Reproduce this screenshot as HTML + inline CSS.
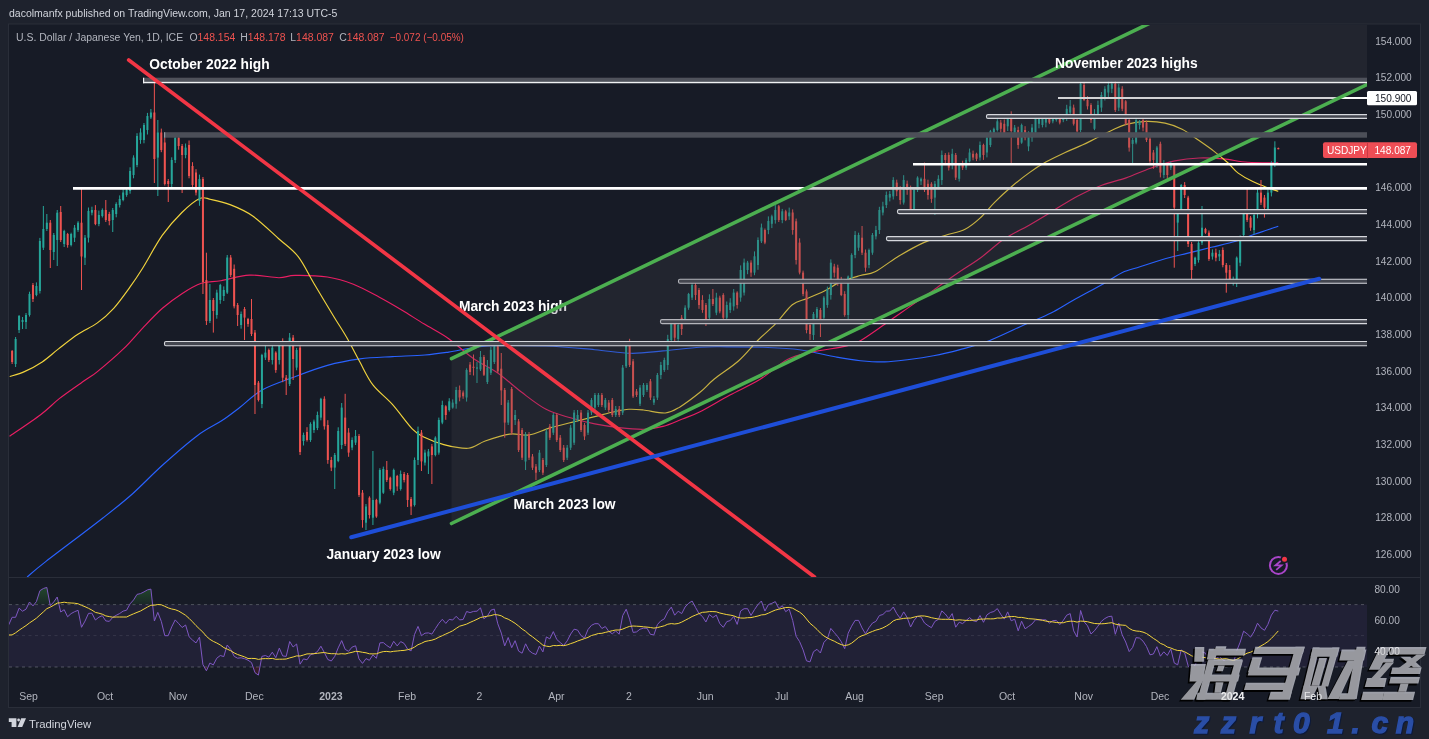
<!DOCTYPE html>
<html><head><meta charset="utf-8"><style>html,body{margin:0;padding:0;overflow:hidden;background:#1e222d;}svg{display:block;will-change:transform}</style></head>
<body><svg width="1429" height="739" viewBox="0 0 1429 739" xml:space="preserve">
<rect x="0" y="0" width="1429" height="739" fill="#1e222d"/>
<rect x="8.5" y="24" width="1412" height="683.5" fill="#171b26" stroke="#2a2e39" stroke-width="1"/>
<defs><clipPath id="cp"><rect x="9" y="25" width="1358" height="552"/></clipPath><clipPath id="cr"><rect x="9" y="578" width="1358" height="103"/></clipPath></defs>
<g clip-path="url(#cp)">
<path fill="none" stroke="#2962ff" stroke-width="1.15" d="M27.1,577.0 C30.2,574.4 33.4,571.2 46.0,561.4 C58.6,551.6 88.5,529.3 102.9,518.0 C117.3,506.7 122.7,502.5 132.6,493.7 C142.5,484.9 151.6,475.0 162.4,465.3 C173.2,455.6 187.7,442.9 197.6,435.5 C207.5,428.1 214.9,425.3 222.0,420.6 C229.1,415.9 233.2,412.5 240.0,407.3 C246.8,402.1 253.3,394.8 262.5,389.7 C271.7,384.6 284.2,380.8 295.0,376.7 C305.8,372.6 316.6,368.4 327.4,365.4 C338.2,362.4 349.1,360.4 359.9,358.9 C370.7,357.4 381.6,357.2 392.4,356.6 C403.2,356.0 415.5,355.8 424.9,355.0 C434.3,354.2 438.2,353.6 448.7,352.1 C459.2,350.6 471.5,347.0 487.7,346.0 C503.9,345.0 528.2,345.4 546.1,346.0 C564.0,346.6 580.6,348.5 594.8,349.7 C609.0,350.9 619.9,353.1 631.3,353.3 C642.7,353.5 651.5,351.9 663.0,350.9 C674.5,349.9 689.4,347.9 700.0,347.2 C710.6,346.5 716.0,346.8 726.5,346.8 C737.0,346.8 750.8,346.8 763.0,347.3 C775.2,347.8 787.4,348.1 799.6,349.7 C811.8,351.3 826.0,355.2 836.1,357.0 C846.2,358.8 852.3,359.9 860.4,360.7 C868.5,361.5 876.7,362.1 884.8,361.9 C892.9,361.7 901.0,360.5 909.1,359.5 C917.2,358.5 925.0,357.4 933.5,355.8 C942.0,354.2 950.7,352.1 960.0,349.6 C969.3,347.1 978.4,344.9 989.2,340.7 C1000.0,336.5 1014.7,329.1 1025.0,324.5 C1035.3,319.9 1042.9,317.2 1051.0,313.1 C1059.1,309.0 1064.5,305.2 1073.7,300.1 C1082.9,295.0 1098.1,286.8 1106.2,282.2 C1114.3,277.6 1116.8,275.1 1122.4,272.5 C1128.0,269.9 1133.3,269.0 1140.0,266.8 C1146.7,264.6 1154.9,261.7 1162.7,259.5 C1170.5,257.3 1178.9,255.4 1187.0,253.4 C1195.1,251.4 1203.3,249.3 1211.4,247.3 C1219.5,245.3 1228.4,243.5 1235.7,241.3 C1243.0,239.1 1248.1,236.5 1255.2,234.0 C1262.3,231.5 1274.5,227.5 1278.3,226.2"/>
<path fill="none" stroke="#e91e63" stroke-width="1.15" d="M9.5,436.3 C14.7,432.7 32.2,421.0 40.6,414.7 C49.0,408.4 52.2,404.2 59.6,398.4 C67.0,392.6 79.0,384.5 85.3,380.0 C91.6,375.5 91.1,376.8 97.4,371.6 C103.8,366.4 115.8,356.2 123.4,348.9 C131.0,341.6 136.4,334.6 142.9,327.8 C149.4,321.0 155.9,314.0 162.4,308.3 C168.9,302.6 175.4,297.9 181.9,293.7 C188.4,289.5 194.9,285.5 201.4,283.3 C207.9,281.1 212.8,282.1 220.8,280.7 C228.8,279.3 239.8,275.6 249.5,275.1 C259.1,274.6 271.1,277.6 278.7,277.7 C286.3,277.8 286.9,275.5 295.0,275.4 C303.1,275.3 317.7,275.5 327.4,277.0 C337.1,278.5 344.7,280.8 353.4,284.2 C362.1,287.6 371.3,292.9 379.4,297.2 C387.5,301.5 394.6,305.7 402.1,310.2 C409.6,314.7 416.5,319.4 424.3,324.1 C432.1,328.9 440.6,333.0 448.7,338.7 C456.8,344.4 464.9,352.5 473.0,358.2 C481.1,363.9 489.3,367.1 497.4,372.8 C505.5,378.5 513.6,386.2 521.7,392.3 C529.8,398.4 538.0,405.1 546.1,409.3 C554.2,413.6 562.3,415.4 570.4,417.8 C578.5,420.2 586.7,422.3 594.8,423.9 C602.9,425.5 611.0,426.7 619.1,427.6 C627.2,428.5 636.2,429.5 643.5,429.3 C650.8,429.1 656.5,428.1 663.0,426.4 C669.5,424.7 676.2,421.4 682.4,419.0 C688.6,416.6 692.1,415.7 700.0,411.7 C707.9,407.7 719.9,400.4 730.0,395.0 C740.1,389.6 751.0,384.9 760.6,379.0 C770.2,373.1 778.9,364.0 787.4,359.5 C795.9,355.0 802.0,354.4 811.7,352.2 C821.4,350.0 837.7,348.0 845.8,346.1 C853.9,344.2 853.9,344.4 860.4,340.7 C866.9,337.0 876.7,329.8 884.8,324.2 C892.9,318.6 901.0,312.8 909.1,307.1 C917.2,301.4 925.4,295.8 933.5,290.1 C941.6,284.4 950.0,278.3 957.8,273.0 C965.5,267.7 972.2,264.0 980.0,258.3 C987.8,252.6 996.3,244.3 1004.4,238.8 C1012.5,233.3 1020.6,230.1 1028.7,225.4 C1036.8,220.7 1045.0,215.7 1053.1,210.8 C1061.2,205.9 1069.3,200.5 1077.4,196.2 C1085.5,191.9 1093.7,188.2 1101.8,185.2 C1109.9,182.1 1118.0,180.7 1126.1,177.9 C1134.2,175.1 1142.4,171.0 1150.5,168.2 C1158.6,165.4 1166.7,162.6 1174.8,160.9 C1182.9,159.2 1191.1,158.3 1199.2,158.0 C1207.3,157.7 1215.4,158.2 1223.5,158.9 C1231.6,159.6 1238.8,161.7 1247.9,162.3 C1257.0,163.0 1273.2,162.7 1278.3,162.8"/>
<path fill="none" stroke="#f2d43d" stroke-width="1.15" d="M9.7,376.5 C12.1,375.7 19.0,374.0 24.4,371.6 C29.8,369.2 36.5,365.7 42.2,361.9 C47.9,358.1 52.5,353.5 58.5,348.9 C64.5,344.3 71.4,338.6 77.9,334.3 C84.4,330.0 91.4,327.2 97.4,322.9 C103.4,318.6 108.3,314.2 113.7,308.3 C119.1,302.4 125.0,294.0 129.9,287.2 C134.8,280.4 137.5,276.4 142.9,267.7 C148.3,259.0 155.9,244.4 162.4,235.2 C168.9,226.0 175.7,218.6 181.9,212.5 C188.1,206.4 194.8,200.7 199.7,198.5 C204.6,196.3 206.0,198.5 211.1,199.5 C216.2,200.5 223.1,201.8 230.0,204.6 C236.9,207.3 244.6,210.3 252.7,216.0 C260.8,221.7 271.1,231.9 278.7,238.7 C286.3,245.5 292.2,249.0 298.2,256.6 C304.1,264.2 308.4,274.2 314.4,284.2 C320.3,294.2 328.5,307.8 333.9,316.7 C339.3,325.6 342.6,330.2 346.9,337.8 C351.2,345.4 355.6,354.2 359.9,362.1 C364.2,370.0 367.5,377.8 372.9,384.9 C378.3,391.9 385.8,397.1 392.4,404.4 C398.9,411.7 406.9,423.3 412.2,428.8 C417.5,434.3 419.0,434.7 424.3,437.3 C429.6,439.9 436.5,442.8 443.8,444.6 C451.1,446.4 461.3,448.9 468.2,448.3 C475.1,447.7 478.3,443.4 485.2,441.0 C492.1,438.6 502.3,435.1 509.6,434.1 C516.9,433.1 522.1,436.0 529.0,434.9 C535.9,433.8 543.3,429.8 551.0,427.6 C558.7,425.4 568.0,423.3 575.3,421.5 C582.6,419.7 588.3,418.2 594.8,416.6 C601.3,415.0 608.6,412.9 614.3,411.7 C620.0,410.5 624.0,409.6 628.9,409.3 C633.8,409.0 637.4,409.4 643.5,410.0 C649.6,410.6 659.3,413.5 665.4,413.0 C671.5,412.5 674.2,410.3 680.0,406.9 C685.8,403.4 694.3,396.9 700.0,392.3 C705.7,387.7 707.8,384.3 714.3,379.0 C720.8,373.7 731.4,367.2 738.7,360.7 C746.0,354.2 752.1,346.1 758.2,340.0 C764.3,333.9 769.5,330.1 775.2,324.2 C780.9,318.3 787.0,309.0 792.3,304.7 C797.6,300.4 801.6,300.8 806.9,298.6 C812.2,296.4 818.2,294.1 823.9,291.3 C829.6,288.5 834.9,284.2 841.0,281.6 C847.1,279.0 854.7,277.1 860.4,275.5 C866.1,273.9 868.9,274.9 875.0,271.8 C881.1,268.8 888.9,262.1 897.0,257.2 C905.1,252.3 915.6,246.2 923.7,242.6 C931.8,238.9 938.8,237.5 945.7,235.3 C952.6,233.1 959.4,232.1 965.1,229.2 C970.8,226.3 975.1,222.6 980.0,218.1 C984.9,213.6 989.3,207.6 994.6,202.3 C999.9,197.0 1006.0,191.4 1011.7,186.5 C1017.4,181.6 1023.0,177.2 1028.7,173.1 C1034.4,169.0 1039.7,165.5 1045.8,162.1 C1051.9,158.7 1059.1,155.2 1065.2,152.4 C1071.3,149.6 1077.0,147.5 1082.3,145.1 C1087.6,142.7 1092.0,140.2 1096.9,137.8 C1101.8,135.4 1106.6,132.6 1111.5,130.4 C1116.4,128.2 1120.4,125.9 1126.1,124.4 C1131.8,122.9 1139.1,121.6 1145.6,121.4 C1152.1,121.2 1159.0,121.8 1165.1,123.1 C1171.2,124.4 1176.8,126.5 1182.1,129.2 C1187.4,131.8 1191.5,135.3 1196.8,139.0 C1202.1,142.7 1208.5,147.0 1213.8,151.1 C1219.1,155.2 1224.3,159.6 1228.4,163.3 C1232.5,167.0 1234.1,170.1 1238.2,173.1 C1242.3,176.1 1247.9,179.2 1252.8,181.6 C1257.7,184.0 1263.2,186.1 1267.4,187.7 C1271.7,189.3 1276.5,190.7 1278.3,191.3"/>
<line x1="12.14" y1="350.0" x2="12.14" y2="364.0" stroke="#ef5350" stroke-width="1"/>
<rect x="11.14" y="351.0" width="2.0" height="11.0" fill="#ef5350"/>
<line x1="15.61" y1="337.0" x2="15.61" y2="367.0" stroke="#26a69a" stroke-width="1"/>
<rect x="14.61" y="339.0" width="2.0" height="25.0" fill="#26a69a"/>
<line x1="19.08" y1="315.0" x2="19.08" y2="333.0" stroke="#26a69a" stroke-width="1"/>
<rect x="18.08" y="316.0" width="2.0" height="14.0" fill="#26a69a"/>
<line x1="22.55" y1="317.0" x2="22.55" y2="329.0" stroke="#26a69a" stroke-width="1"/>
<rect x="21.55" y="320.0" width="2.0" height="2.0" fill="#26a69a"/>
<line x1="26.02" y1="313.0" x2="26.02" y2="329.0" stroke="#26a69a" stroke-width="1"/>
<rect x="25.02" y="315.0" width="2.0" height="7.0" fill="#26a69a"/>
<line x1="29.49" y1="291.7" x2="29.49" y2="316.6" stroke="#26a69a" stroke-width="1"/>
<rect x="28.49" y="294.0" width="2.0" height="21.0" fill="#26a69a"/>
<line x1="32.96" y1="283.0" x2="32.96" y2="302.0" stroke="#ef5350" stroke-width="1"/>
<rect x="31.96" y="285.0" width="2.0" height="14.0" fill="#ef5350"/>
<line x1="36.42" y1="282.4" x2="36.42" y2="296.3" stroke="#26a69a" stroke-width="1"/>
<rect x="35.42" y="286.0" width="2.0" height="9.0" fill="#26a69a"/>
<line x1="39.89" y1="237.9" x2="39.89" y2="293.5" stroke="#26a69a" stroke-width="1"/>
<rect x="38.89" y="241.0" width="2.0" height="50.0" fill="#26a69a"/>
<line x1="43.36" y1="206.0" x2="43.36" y2="250.0" stroke="#26a69a" stroke-width="1"/>
<rect x="42.36" y="229.0" width="2.0" height="18.7" fill="#26a69a"/>
<line x1="46.83" y1="214.0" x2="46.83" y2="231.0" stroke="#26a69a" stroke-width="1"/>
<rect x="45.83" y="222.7" width="2.0" height="6.3" fill="#26a69a"/>
<line x1="50.30" y1="220.0" x2="50.30" y2="268.0" stroke="#ef5350" stroke-width="1"/>
<rect x="49.30" y="222.7" width="2.0" height="27.3" fill="#ef5350"/>
<line x1="53.77" y1="233.0" x2="53.77" y2="260.0" stroke="#26a69a" stroke-width="1"/>
<rect x="52.77" y="235.0" width="2.0" height="17.0" fill="#26a69a"/>
<line x1="57.24" y1="210.0" x2="57.24" y2="266.0" stroke="#26a69a" stroke-width="1"/>
<rect x="56.24" y="212.7" width="2.0" height="27.3" fill="#26a69a"/>
<line x1="60.71" y1="206.0" x2="60.71" y2="242.0" stroke="#ef5350" stroke-width="1"/>
<rect x="59.71" y="212.0" width="2.0" height="28.0" fill="#ef5350"/>
<line x1="64.18" y1="229.8" x2="64.18" y2="247.0" stroke="#26a69a" stroke-width="1"/>
<rect x="63.18" y="231.0" width="2.0" height="13.0" fill="#26a69a"/>
<line x1="67.65" y1="232.9" x2="67.65" y2="247.7" stroke="#ef5350" stroke-width="1"/>
<rect x="66.65" y="234.0" width="2.0" height="11.0" fill="#ef5350"/>
<line x1="71.11" y1="232.7" x2="71.11" y2="246.4" stroke="#26a69a" stroke-width="1"/>
<rect x="70.11" y="234.0" width="2.0" height="11.0" fill="#26a69a"/>
<line x1="74.58" y1="225.0" x2="74.58" y2="242.0" stroke="#26a69a" stroke-width="1"/>
<rect x="73.58" y="227.7" width="2.0" height="10.0" fill="#26a69a"/>
<line x1="78.05" y1="221.2" x2="78.05" y2="231.9" stroke="#26a69a" stroke-width="1"/>
<rect x="77.05" y="222.7" width="2.0" height="7.3" fill="#26a69a"/>
<line x1="81.52" y1="189.0" x2="81.52" y2="290.0" stroke="#ef5350" stroke-width="1"/>
<rect x="80.52" y="222.7" width="2.0" height="33.8" fill="#ef5350"/>
<line x1="84.99" y1="235.0" x2="84.99" y2="265.0" stroke="#26a69a" stroke-width="1"/>
<rect x="83.99" y="237.7" width="2.0" height="20.0" fill="#26a69a"/>
<line x1="88.46" y1="207.5" x2="88.46" y2="242.5" stroke="#26a69a" stroke-width="1"/>
<rect x="87.46" y="211.0" width="2.0" height="26.7" fill="#26a69a"/>
<line x1="91.93" y1="206.7" x2="91.93" y2="215.3" stroke="#26a69a" stroke-width="1"/>
<rect x="90.93" y="210.0" width="2.0" height="2.7" fill="#26a69a"/>
<line x1="95.40" y1="205.1" x2="95.40" y2="225.2" stroke="#ef5350" stroke-width="1"/>
<rect x="94.40" y="210.0" width="2.0" height="14.0" fill="#ef5350"/>
<line x1="98.87" y1="210.6" x2="98.87" y2="226.2" stroke="#26a69a" stroke-width="1"/>
<rect x="97.87" y="215.0" width="2.0" height="9.0" fill="#26a69a"/>
<line x1="102.34" y1="208.4" x2="102.34" y2="217.5" stroke="#26a69a" stroke-width="1"/>
<rect x="101.34" y="210.0" width="2.0" height="6.0" fill="#26a69a"/>
<line x1="105.80" y1="200.0" x2="105.80" y2="222.0" stroke="#ef5350" stroke-width="1"/>
<rect x="104.80" y="210.0" width="2.0" height="10.0" fill="#ef5350"/>
<line x1="109.27" y1="211.8" x2="109.27" y2="225.3" stroke="#ef5350" stroke-width="1"/>
<rect x="108.27" y="214.0" width="2.0" height="7.0" fill="#ef5350"/>
<line x1="112.74" y1="208.0" x2="112.74" y2="232.0" stroke="#26a69a" stroke-width="1"/>
<rect x="111.74" y="210.0" width="2.0" height="10.0" fill="#26a69a"/>
<line x1="116.21" y1="202.3" x2="116.21" y2="217.3" stroke="#26a69a" stroke-width="1"/>
<rect x="115.21" y="204.0" width="2.0" height="10.0" fill="#26a69a"/>
<line x1="119.68" y1="195.4" x2="119.68" y2="207.5" stroke="#26a69a" stroke-width="1"/>
<rect x="118.68" y="199.0" width="2.0" height="6.0" fill="#26a69a"/>
<line x1="123.15" y1="189.3" x2="123.15" y2="201.3" stroke="#26a69a" stroke-width="1"/>
<rect x="122.15" y="192.5" width="2.0" height="7.5" fill="#26a69a"/>
<line x1="126.62" y1="188.8" x2="126.62" y2="196.8" stroke="#26a69a" stroke-width="1"/>
<rect x="125.62" y="190.0" width="2.0" height="5.0" fill="#26a69a"/>
<line x1="130.09" y1="167.3" x2="130.09" y2="193.7" stroke="#26a69a" stroke-width="1"/>
<rect x="129.09" y="171.0" width="2.0" height="20.0" fill="#26a69a"/>
<line x1="133.56" y1="155.3" x2="133.56" y2="178.3" stroke="#26a69a" stroke-width="1"/>
<rect x="132.56" y="157.6" width="2.0" height="17.4" fill="#26a69a"/>
<line x1="137.03" y1="133.2" x2="137.03" y2="167.2" stroke="#26a69a" stroke-width="1"/>
<rect x="136.03" y="136.0" width="2.0" height="29.0" fill="#26a69a"/>
<line x1="140.50" y1="128.3" x2="140.50" y2="143.8" stroke="#26a69a" stroke-width="1"/>
<rect x="139.50" y="132.5" width="2.0" height="7.5" fill="#26a69a"/>
<line x1="143.96" y1="123.0" x2="143.96" y2="143.3" stroke="#26a69a" stroke-width="1"/>
<rect x="142.96" y="125.0" width="2.0" height="15.0" fill="#26a69a"/>
<line x1="147.43" y1="112.9" x2="147.43" y2="134.5" stroke="#26a69a" stroke-width="1"/>
<rect x="146.43" y="116.0" width="2.0" height="14.0" fill="#26a69a"/>
<line x1="150.90" y1="109.0" x2="150.90" y2="119.0" stroke="#26a69a" stroke-width="1"/>
<rect x="149.90" y="112.5" width="2.0" height="5.0" fill="#26a69a"/>
<line x1="154.37" y1="79.0" x2="154.37" y2="183.0" stroke="#ef5350" stroke-width="1"/>
<rect x="153.37" y="112.5" width="2.0" height="46.5" fill="#ef5350"/>
<line x1="157.84" y1="120.0" x2="157.84" y2="196.0" stroke="#26a69a" stroke-width="1"/>
<rect x="156.84" y="132.5" width="2.0" height="25.1" fill="#26a69a"/>
<line x1="161.31" y1="128.6" x2="161.31" y2="152.2" stroke="#ef5350" stroke-width="1"/>
<rect x="160.31" y="132.5" width="2.0" height="17.5" fill="#ef5350"/>
<line x1="164.78" y1="137.6" x2="164.78" y2="185.5" stroke="#ef5350" stroke-width="1"/>
<rect x="163.78" y="142.5" width="2.0" height="41.5" fill="#ef5350"/>
<line x1="168.25" y1="179.0" x2="168.25" y2="202.0" stroke="#ef5350" stroke-width="1"/>
<rect x="167.25" y="181.0" width="2.0" height="3.0" fill="#ef5350"/>
<line x1="171.72" y1="157.3" x2="171.72" y2="188.0" stroke="#26a69a" stroke-width="1"/>
<rect x="170.72" y="160.0" width="2.0" height="24.0" fill="#26a69a"/>
<line x1="175.19" y1="135.9" x2="175.19" y2="163.0" stroke="#26a69a" stroke-width="1"/>
<rect x="174.19" y="137.5" width="2.0" height="22.5" fill="#26a69a"/>
<line x1="178.65" y1="136.3" x2="178.65" y2="149.7" stroke="#ef5350" stroke-width="1"/>
<rect x="177.65" y="137.5" width="2.0" height="8.5" fill="#ef5350"/>
<line x1="182.12" y1="144.0" x2="182.12" y2="193.0" stroke="#ef5350" stroke-width="1"/>
<rect x="181.12" y="146.0" width="2.0" height="9.0" fill="#ef5350"/>
<line x1="185.59" y1="143.5" x2="185.59" y2="158.3" stroke="#26a69a" stroke-width="1"/>
<rect x="184.59" y="147.6" width="2.0" height="7.4" fill="#26a69a"/>
<line x1="189.06" y1="140.5" x2="189.06" y2="178.3" stroke="#ef5350" stroke-width="1"/>
<rect x="188.06" y="145.0" width="2.0" height="31.0" fill="#ef5350"/>
<line x1="192.53" y1="162.2" x2="192.53" y2="188.4" stroke="#ef5350" stroke-width="1"/>
<rect x="191.53" y="166.0" width="2.0" height="19.0" fill="#ef5350"/>
<line x1="196.00" y1="169.2" x2="196.00" y2="195.4" stroke="#ef5350" stroke-width="1"/>
<rect x="195.00" y="172.5" width="2.0" height="20.1" fill="#ef5350"/>
<line x1="199.47" y1="174.6" x2="199.47" y2="205.8" stroke="#26a69a" stroke-width="1"/>
<rect x="198.47" y="179.0" width="2.0" height="22.0" fill="#26a69a"/>
<line x1="202.94" y1="177.0" x2="202.94" y2="294.0" stroke="#ef5350" stroke-width="1"/>
<rect x="201.94" y="179.0" width="2.0" height="103.0" fill="#ef5350"/>
<line x1="206.41" y1="252.7" x2="206.41" y2="325.0" stroke="#ef5350" stroke-width="1"/>
<rect x="205.41" y="280.0" width="2.0" height="41.0" fill="#ef5350"/>
<line x1="209.88" y1="284.0" x2="209.88" y2="323.0" stroke="#26a69a" stroke-width="1"/>
<rect x="208.88" y="300.0" width="2.0" height="21.0" fill="#26a69a"/>
<line x1="213.34" y1="298.0" x2="213.34" y2="332.6" stroke="#ef5350" stroke-width="1"/>
<rect x="212.34" y="300.0" width="2.0" height="11.0" fill="#ef5350"/>
<line x1="216.81" y1="289.7" x2="216.81" y2="318.7" stroke="#26a69a" stroke-width="1"/>
<rect x="215.81" y="292.6" width="2.0" height="22.4" fill="#26a69a"/>
<line x1="220.28" y1="283.8" x2="220.28" y2="303.8" stroke="#26a69a" stroke-width="1"/>
<rect x="219.28" y="285.0" width="2.0" height="15.0" fill="#26a69a"/>
<line x1="223.75" y1="286.4" x2="223.75" y2="301.0" stroke="#26a69a" stroke-width="1"/>
<rect x="222.75" y="290.0" width="2.0" height="6.0" fill="#26a69a"/>
<line x1="227.22" y1="255.0" x2="227.22" y2="294.0" stroke="#26a69a" stroke-width="1"/>
<rect x="226.22" y="257.5" width="2.0" height="35.1" fill="#26a69a"/>
<line x1="230.69" y1="255.0" x2="230.69" y2="277.0" stroke="#ef5350" stroke-width="1"/>
<rect x="229.69" y="257.5" width="2.0" height="17.5" fill="#ef5350"/>
<line x1="234.16" y1="264.5" x2="234.16" y2="308.4" stroke="#ef5350" stroke-width="1"/>
<rect x="233.16" y="268.8" width="2.0" height="37.5" fill="#ef5350"/>
<line x1="237.63" y1="303.0" x2="237.63" y2="326.0" stroke="#ef5350" stroke-width="1"/>
<rect x="236.63" y="305.0" width="2.0" height="10.0" fill="#ef5350"/>
<line x1="241.10" y1="311.5" x2="241.10" y2="328.7" stroke="#26a69a" stroke-width="1"/>
<rect x="240.10" y="314.0" width="2.0" height="11.0" fill="#26a69a"/>
<line x1="244.56" y1="307.0" x2="244.56" y2="340.0" stroke="#ef5350" stroke-width="1"/>
<rect x="243.56" y="309.0" width="2.0" height="8.6" fill="#ef5350"/>
<line x1="248.03" y1="317.9" x2="248.03" y2="326.8" stroke="#ef5350" stroke-width="1"/>
<rect x="247.03" y="319.0" width="2.0" height="5.0" fill="#ef5350"/>
<line x1="251.50" y1="299.0" x2="251.50" y2="336.0" stroke="#ef5350" stroke-width="1"/>
<rect x="250.50" y="319.0" width="2.0" height="15.0" fill="#ef5350"/>
<line x1="254.97" y1="330.0" x2="254.97" y2="414.0" stroke="#ef5350" stroke-width="1"/>
<rect x="253.97" y="332.6" width="2.0" height="52.4" fill="#ef5350"/>
<line x1="258.44" y1="381.0" x2="258.44" y2="401.5" stroke="#ef5350" stroke-width="1"/>
<rect x="257.44" y="382.7" width="2.0" height="17.3" fill="#ef5350"/>
<line x1="261.91" y1="353.8" x2="261.91" y2="408.1" stroke="#26a69a" stroke-width="1"/>
<rect x="260.91" y="355.0" width="2.0" height="49.0" fill="#26a69a"/>
<line x1="265.38" y1="345.0" x2="265.38" y2="360.0" stroke="#26a69a" stroke-width="1"/>
<rect x="264.38" y="352.6" width="2.0" height="5.0" fill="#26a69a"/>
<line x1="268.85" y1="348.5" x2="268.85" y2="362.0" stroke="#ef5350" stroke-width="1"/>
<rect x="267.85" y="350.0" width="2.0" height="10.0" fill="#ef5350"/>
<line x1="272.32" y1="345.0" x2="272.32" y2="364.5" stroke="#26a69a" stroke-width="1"/>
<rect x="271.32" y="347.6" width="2.0" height="12.4" fill="#26a69a"/>
<line x1="275.79" y1="351.3" x2="275.79" y2="372.8" stroke="#ef5350" stroke-width="1"/>
<rect x="274.79" y="352.6" width="2.0" height="17.4" fill="#ef5350"/>
<line x1="279.25" y1="341.8" x2="279.25" y2="364.5" stroke="#26a69a" stroke-width="1"/>
<rect x="278.25" y="345.0" width="2.0" height="15.0" fill="#26a69a"/>
<line x1="282.72" y1="338.3" x2="282.72" y2="382.2" stroke="#ef5350" stroke-width="1"/>
<rect x="281.72" y="342.6" width="2.0" height="35.1" fill="#ef5350"/>
<line x1="286.19" y1="375.0" x2="286.19" y2="395.0" stroke="#ef5350" stroke-width="1"/>
<rect x="285.19" y="377.7" width="2.0" height="2.3" fill="#ef5350"/>
<line x1="289.66" y1="333.0" x2="289.66" y2="386.0" stroke="#26a69a" stroke-width="1"/>
<rect x="288.66" y="337.6" width="2.0" height="46.4" fill="#26a69a"/>
<line x1="293.13" y1="335.0" x2="293.13" y2="380.0" stroke="#ef5350" stroke-width="1"/>
<rect x="292.13" y="337.6" width="2.0" height="21.4" fill="#ef5350"/>
<line x1="296.60" y1="347.9" x2="296.60" y2="370.3" stroke="#26a69a" stroke-width="1"/>
<rect x="295.60" y="350.0" width="2.0" height="17.6" fill="#26a69a"/>
<line x1="300.07" y1="345.0" x2="300.07" y2="455.0" stroke="#ef5350" stroke-width="1"/>
<rect x="299.07" y="347.6" width="2.0" height="104.4" fill="#ef5350"/>
<line x1="303.54" y1="432.6" x2="303.54" y2="445.5" stroke="#26a69a" stroke-width="1"/>
<rect x="302.54" y="435.0" width="2.0" height="6.0" fill="#26a69a"/>
<line x1="307.01" y1="427.2" x2="307.01" y2="441.6" stroke="#ef5350" stroke-width="1"/>
<rect x="306.01" y="432.0" width="2.0" height="8.0" fill="#ef5350"/>
<line x1="310.48" y1="422.3" x2="310.48" y2="441.9" stroke="#26a69a" stroke-width="1"/>
<rect x="309.48" y="424.0" width="2.0" height="16.0" fill="#26a69a"/>
<line x1="313.94" y1="419.6" x2="313.94" y2="432.9" stroke="#26a69a" stroke-width="1"/>
<rect x="312.94" y="421.5" width="2.0" height="8.5" fill="#26a69a"/>
<line x1="317.41" y1="411.6" x2="317.41" y2="430.1" stroke="#26a69a" stroke-width="1"/>
<rect x="316.41" y="415.0" width="2.0" height="13.0" fill="#26a69a"/>
<line x1="320.88" y1="397.8" x2="320.88" y2="420.3" stroke="#26a69a" stroke-width="1"/>
<rect x="319.88" y="398.8" width="2.0" height="18.8" fill="#26a69a"/>
<line x1="324.35" y1="396.3" x2="324.35" y2="429.6" stroke="#ef5350" stroke-width="1"/>
<rect x="323.35" y="398.8" width="2.0" height="27.5" fill="#ef5350"/>
<line x1="327.82" y1="420.2" x2="327.82" y2="463.8" stroke="#ef5350" stroke-width="1"/>
<rect x="326.82" y="425.0" width="2.0" height="35.0" fill="#ef5350"/>
<line x1="331.29" y1="456.9" x2="331.29" y2="471.1" stroke="#ef5350" stroke-width="1"/>
<rect x="330.29" y="460.0" width="2.0" height="7.6" fill="#ef5350"/>
<line x1="334.76" y1="453.0" x2="334.76" y2="489.0" stroke="#26a69a" stroke-width="1"/>
<rect x="333.76" y="455.0" width="2.0" height="12.6" fill="#26a69a"/>
<line x1="338.23" y1="427.3" x2="338.23" y2="462.2" stroke="#26a69a" stroke-width="1"/>
<rect x="337.23" y="431.0" width="2.0" height="30.0" fill="#26a69a"/>
<line x1="341.70" y1="403.0" x2="341.70" y2="449.1" stroke="#26a69a" stroke-width="1"/>
<rect x="340.70" y="407.6" width="2.0" height="37.4" fill="#26a69a"/>
<line x1="345.17" y1="393.8" x2="345.17" y2="446.0" stroke="#ef5350" stroke-width="1"/>
<rect x="344.17" y="417.6" width="2.0" height="26.3" fill="#ef5350"/>
<line x1="348.63" y1="428.1" x2="348.63" y2="456.8" stroke="#ef5350" stroke-width="1"/>
<rect x="347.63" y="432.6" width="2.0" height="20.0" fill="#ef5350"/>
<line x1="352.10" y1="437.4" x2="352.10" y2="450.2" stroke="#26a69a" stroke-width="1"/>
<rect x="351.10" y="440.0" width="2.0" height="7.6" fill="#26a69a"/>
<line x1="355.57" y1="430.0" x2="355.57" y2="445.0" stroke="#26a69a" stroke-width="1"/>
<rect x="354.57" y="436.0" width="2.0" height="6.6" fill="#26a69a"/>
<line x1="359.04" y1="434.0" x2="359.04" y2="497.0" stroke="#ef5350" stroke-width="1"/>
<rect x="358.04" y="436.0" width="2.0" height="59.0" fill="#ef5350"/>
<line x1="362.51" y1="490.0" x2="362.51" y2="527.7" stroke="#ef5350" stroke-width="1"/>
<rect x="361.51" y="492.7" width="2.0" height="27.3" fill="#ef5350"/>
<line x1="365.98" y1="504.0" x2="365.98" y2="530.0" stroke="#26a69a" stroke-width="1"/>
<rect x="364.98" y="506.5" width="2.0" height="16.2" fill="#26a69a"/>
<line x1="369.45" y1="496.3" x2="369.45" y2="518.5" stroke="#ef5350" stroke-width="1"/>
<rect x="368.45" y="497.7" width="2.0" height="17.3" fill="#ef5350"/>
<line x1="372.92" y1="451.0" x2="372.92" y2="525.0" stroke="#26a69a" stroke-width="1"/>
<rect x="371.92" y="500.0" width="2.0" height="17.7" fill="#26a69a"/>
<line x1="376.39" y1="498.8" x2="376.39" y2="517.8" stroke="#ef5350" stroke-width="1"/>
<rect x="375.39" y="500.0" width="2.0" height="16.5" fill="#ef5350"/>
<line x1="379.86" y1="468.2" x2="379.86" y2="504.3" stroke="#26a69a" stroke-width="1"/>
<rect x="378.86" y="470.0" width="2.0" height="32.7" fill="#26a69a"/>
<line x1="383.32" y1="466.6" x2="383.32" y2="493.9" stroke="#26a69a" stroke-width="1"/>
<rect x="382.32" y="469.0" width="2.0" height="23.7" fill="#26a69a"/>
<line x1="386.79" y1="461.0" x2="386.79" y2="482.0" stroke="#ef5350" stroke-width="1"/>
<rect x="385.79" y="470.0" width="2.0" height="10.0" fill="#ef5350"/>
<line x1="390.26" y1="476.7" x2="390.26" y2="490.6" stroke="#ef5350" stroke-width="1"/>
<rect x="389.26" y="477.7" width="2.0" height="11.3" fill="#ef5350"/>
<line x1="393.73" y1="468.6" x2="393.73" y2="495.2" stroke="#26a69a" stroke-width="1"/>
<rect x="392.73" y="470.0" width="2.0" height="22.7" fill="#26a69a"/>
<line x1="397.20" y1="474.9" x2="397.20" y2="490.9" stroke="#ef5350" stroke-width="1"/>
<rect x="396.20" y="476.0" width="2.0" height="10.4" fill="#ef5350"/>
<line x1="400.67" y1="470.5" x2="400.67" y2="490.6" stroke="#26a69a" stroke-width="1"/>
<rect x="399.67" y="474.0" width="2.0" height="15.0" fill="#26a69a"/>
<line x1="404.14" y1="472.0" x2="404.14" y2="482.4" stroke="#ef5350" stroke-width="1"/>
<rect x="403.14" y="474.0" width="2.0" height="6.0" fill="#ef5350"/>
<line x1="407.61" y1="473.0" x2="407.61" y2="507.0" stroke="#ef5350" stroke-width="1"/>
<rect x="406.61" y="475.0" width="2.0" height="25.0" fill="#ef5350"/>
<line x1="411.08" y1="497.0" x2="411.08" y2="515.0" stroke="#ef5350" stroke-width="1"/>
<rect x="410.08" y="499.0" width="2.0" height="7.5" fill="#ef5350"/>
<line x1="414.55" y1="457.5" x2="414.55" y2="506.5" stroke="#26a69a" stroke-width="1"/>
<rect x="413.55" y="460.0" width="2.0" height="45.0" fill="#26a69a"/>
<line x1="418.01" y1="426.6" x2="418.01" y2="465.0" stroke="#26a69a" stroke-width="1"/>
<rect x="417.01" y="431.0" width="2.0" height="29.0" fill="#26a69a"/>
<line x1="421.48" y1="430.0" x2="421.48" y2="471.0" stroke="#ef5350" stroke-width="1"/>
<rect x="420.48" y="432.6" width="2.0" height="28.8" fill="#ef5350"/>
<line x1="424.95" y1="449.7" x2="424.95" y2="465.5" stroke="#26a69a" stroke-width="1"/>
<rect x="423.95" y="452.6" width="2.0" height="10.0" fill="#26a69a"/>
<line x1="428.42" y1="449.0" x2="428.42" y2="474.0" stroke="#26a69a" stroke-width="1"/>
<rect x="427.42" y="451.4" width="2.0" height="5.0" fill="#26a69a"/>
<line x1="431.89" y1="444.0" x2="431.89" y2="484.0" stroke="#ef5350" stroke-width="1"/>
<rect x="430.89" y="446.4" width="2.0" height="8.6" fill="#ef5350"/>
<line x1="435.36" y1="436.3" x2="435.36" y2="456.4" stroke="#26a69a" stroke-width="1"/>
<rect x="434.36" y="437.6" width="2.0" height="17.4" fill="#26a69a"/>
<line x1="438.83" y1="417.6" x2="438.83" y2="454.7" stroke="#26a69a" stroke-width="1"/>
<rect x="437.83" y="420.0" width="2.0" height="32.6" fill="#26a69a"/>
<line x1="442.30" y1="400.7" x2="442.30" y2="424.2" stroke="#26a69a" stroke-width="1"/>
<rect x="441.30" y="405.0" width="2.0" height="17.6" fill="#26a69a"/>
<line x1="445.77" y1="405.2" x2="445.77" y2="419.8" stroke="#ef5350" stroke-width="1"/>
<rect x="444.77" y="406.3" width="2.0" height="8.7" fill="#ef5350"/>
<line x1="449.24" y1="398.2" x2="449.24" y2="411.6" stroke="#26a69a" stroke-width="1"/>
<rect x="448.24" y="401.3" width="2.0" height="8.7" fill="#26a69a"/>
<line x1="452.70" y1="399.4" x2="452.70" y2="408.7" stroke="#26a69a" stroke-width="1"/>
<rect x="451.70" y="402.6" width="2.0" height="5.0" fill="#26a69a"/>
<line x1="456.17" y1="386.9" x2="456.17" y2="408.7" stroke="#26a69a" stroke-width="1"/>
<rect x="455.17" y="390.0" width="2.0" height="13.8" fill="#26a69a"/>
<line x1="459.64" y1="385.5" x2="459.64" y2="401.3" stroke="#ef5350" stroke-width="1"/>
<rect x="458.64" y="390.0" width="2.0" height="7.5" fill="#ef5350"/>
<line x1="463.11" y1="390.5" x2="463.11" y2="398.8" stroke="#ef5350" stroke-width="1"/>
<rect x="462.11" y="392.5" width="2.0" height="3.8" fill="#ef5350"/>
<line x1="466.58" y1="368.3" x2="466.58" y2="401.6" stroke="#26a69a" stroke-width="1"/>
<rect x="465.58" y="370.0" width="2.0" height="27.5" fill="#26a69a"/>
<line x1="470.05" y1="362.0" x2="470.05" y2="375.0" stroke="#ef5350" stroke-width="1"/>
<rect x="469.05" y="364.6" width="2.0" height="7.4" fill="#ef5350"/>
<line x1="473.52" y1="354.5" x2="473.52" y2="375.5" stroke="#ef5350" stroke-width="1"/>
<rect x="472.52" y="366.7" width="2.0" height="1.3" fill="#ef5350"/>
<line x1="476.99" y1="362.0" x2="476.99" y2="383.0" stroke="#26a69a" stroke-width="1"/>
<rect x="475.99" y="367.4" width="2.0" height="1.3" fill="#26a69a"/>
<line x1="480.46" y1="351.0" x2="480.46" y2="371.0" stroke="#26a69a" stroke-width="1"/>
<rect x="479.46" y="357.0" width="2.0" height="12.4" fill="#26a69a"/>
<line x1="483.93" y1="355.0" x2="483.93" y2="376.0" stroke="#ef5350" stroke-width="1"/>
<rect x="482.93" y="357.0" width="2.0" height="17.8" fill="#ef5350"/>
<line x1="487.39" y1="360.0" x2="487.39" y2="384.0" stroke="#26a69a" stroke-width="1"/>
<rect x="486.39" y="367.4" width="2.0" height="14.6" fill="#26a69a"/>
<line x1="490.86" y1="347.0" x2="490.86" y2="375.0" stroke="#26a69a" stroke-width="1"/>
<rect x="489.86" y="349.8" width="2.0" height="23.0" fill="#26a69a"/>
<line x1="494.33" y1="345.7" x2="494.33" y2="364.0" stroke="#26a69a" stroke-width="1"/>
<rect x="493.33" y="346.4" width="2.0" height="15.6" fill="#26a69a"/>
<line x1="497.80" y1="344.0" x2="497.80" y2="373.0" stroke="#ef5350" stroke-width="1"/>
<rect x="496.80" y="346.4" width="2.0" height="25.0" fill="#ef5350"/>
<line x1="501.27" y1="353.0" x2="501.27" y2="405.0" stroke="#ef5350" stroke-width="1"/>
<rect x="500.27" y="368.7" width="2.0" height="21.7" fill="#ef5350"/>
<line x1="504.74" y1="388.0" x2="504.74" y2="437.7" stroke="#ef5350" stroke-width="1"/>
<rect x="503.74" y="390.0" width="2.0" height="32.6" fill="#ef5350"/>
<line x1="508.21" y1="400.0" x2="508.21" y2="425.0" stroke="#26a69a" stroke-width="1"/>
<rect x="507.21" y="402.6" width="2.0" height="20.0" fill="#26a69a"/>
<line x1="511.68" y1="387.0" x2="511.68" y2="435.0" stroke="#ef5350" stroke-width="1"/>
<rect x="510.68" y="389.0" width="2.0" height="43.7" fill="#ef5350"/>
<line x1="515.15" y1="410.0" x2="515.15" y2="425.0" stroke="#26a69a" stroke-width="1"/>
<rect x="514.15" y="415.0" width="2.0" height="5.0" fill="#26a69a"/>
<line x1="518.62" y1="419.0" x2="518.62" y2="452.0" stroke="#ef5350" stroke-width="1"/>
<rect x="517.62" y="421.4" width="2.0" height="28.6" fill="#ef5350"/>
<line x1="522.09" y1="428.0" x2="522.09" y2="460.0" stroke="#ef5350" stroke-width="1"/>
<rect x="521.09" y="430.0" width="2.0" height="27.7" fill="#ef5350"/>
<line x1="525.55" y1="432.0" x2="525.55" y2="470.0" stroke="#26a69a" stroke-width="1"/>
<rect x="524.55" y="434.0" width="2.0" height="27.5" fill="#26a69a"/>
<line x1="529.02" y1="432.0" x2="529.02" y2="460.0" stroke="#ef5350" stroke-width="1"/>
<rect x="528.02" y="434.0" width="2.0" height="23.7" fill="#ef5350"/>
<line x1="532.49" y1="454.0" x2="532.49" y2="470.0" stroke="#ef5350" stroke-width="1"/>
<rect x="531.49" y="456.5" width="2.0" height="11.2" fill="#ef5350"/>
<line x1="535.96" y1="464.0" x2="535.96" y2="480.0" stroke="#ef5350" stroke-width="1"/>
<rect x="534.96" y="466.5" width="2.0" height="6.2" fill="#ef5350"/>
<line x1="539.43" y1="450.0" x2="539.43" y2="472.0" stroke="#26a69a" stroke-width="1"/>
<rect x="538.43" y="452.7" width="2.0" height="17.3" fill="#26a69a"/>
<line x1="542.90" y1="458.0" x2="542.90" y2="475.0" stroke="#ef5350" stroke-width="1"/>
<rect x="541.90" y="460.0" width="2.0" height="12.7" fill="#ef5350"/>
<line x1="546.37" y1="429.0" x2="546.37" y2="467.0" stroke="#26a69a" stroke-width="1"/>
<rect x="545.37" y="431.4" width="2.0" height="33.6" fill="#26a69a"/>
<line x1="549.84" y1="424.0" x2="549.84" y2="440.0" stroke="#ef5350" stroke-width="1"/>
<rect x="548.84" y="426.4" width="2.0" height="11.3" fill="#ef5350"/>
<line x1="553.31" y1="413.0" x2="553.31" y2="435.0" stroke="#26a69a" stroke-width="1"/>
<rect x="552.31" y="415.0" width="2.0" height="17.7" fill="#26a69a"/>
<line x1="556.77" y1="413.0" x2="556.77" y2="442.0" stroke="#ef5350" stroke-width="1"/>
<rect x="555.77" y="415.0" width="2.0" height="25.0" fill="#ef5350"/>
<line x1="560.24" y1="435.0" x2="560.24" y2="452.0" stroke="#ef5350" stroke-width="1"/>
<rect x="559.24" y="437.7" width="2.0" height="12.3" fill="#ef5350"/>
<line x1="563.71" y1="445.0" x2="563.71" y2="462.0" stroke="#ef5350" stroke-width="1"/>
<rect x="562.71" y="447.7" width="2.0" height="12.3" fill="#ef5350"/>
<line x1="567.18" y1="445.0" x2="567.18" y2="460.0" stroke="#26a69a" stroke-width="1"/>
<rect x="566.18" y="447.7" width="2.0" height="10.0" fill="#26a69a"/>
<line x1="570.65" y1="425.0" x2="570.65" y2="450.0" stroke="#26a69a" stroke-width="1"/>
<rect x="569.65" y="427.7" width="2.0" height="20.0" fill="#26a69a"/>
<line x1="574.12" y1="410.0" x2="574.12" y2="445.0" stroke="#26a69a" stroke-width="1"/>
<rect x="573.12" y="412.6" width="2.0" height="30.1" fill="#26a69a"/>
<line x1="577.59" y1="410.0" x2="577.59" y2="422.0" stroke="#26a69a" stroke-width="1"/>
<rect x="576.59" y="415.0" width="2.0" height="5.0" fill="#26a69a"/>
<line x1="581.06" y1="410.0" x2="581.06" y2="432.0" stroke="#ef5350" stroke-width="1"/>
<rect x="580.06" y="412.6" width="2.0" height="17.4" fill="#ef5350"/>
<line x1="584.53" y1="423.0" x2="584.53" y2="440.0" stroke="#ef5350" stroke-width="1"/>
<rect x="583.53" y="425.0" width="2.0" height="11.4" fill="#ef5350"/>
<line x1="588.00" y1="410.0" x2="588.00" y2="435.0" stroke="#26a69a" stroke-width="1"/>
<rect x="587.00" y="412.6" width="2.0" height="20.1" fill="#26a69a"/>
<line x1="591.47" y1="398.0" x2="591.47" y2="415.0" stroke="#26a69a" stroke-width="1"/>
<rect x="590.47" y="400.0" width="2.0" height="12.6" fill="#26a69a"/>
<line x1="594.93" y1="393.0" x2="594.93" y2="410.0" stroke="#26a69a" stroke-width="1"/>
<rect x="593.93" y="395.0" width="2.0" height="12.6" fill="#26a69a"/>
<line x1="598.40" y1="393.0" x2="598.40" y2="407.0" stroke="#26a69a" stroke-width="1"/>
<rect x="597.40" y="395.0" width="2.0" height="10.0" fill="#26a69a"/>
<line x1="601.87" y1="393.0" x2="601.87" y2="407.0" stroke="#ef5350" stroke-width="1"/>
<rect x="600.87" y="395.0" width="2.0" height="10.0" fill="#ef5350"/>
<line x1="605.34" y1="398.0" x2="605.34" y2="410.0" stroke="#26a69a" stroke-width="1"/>
<rect x="604.34" y="400.0" width="2.0" height="7.6" fill="#26a69a"/>
<line x1="608.81" y1="400.0" x2="608.81" y2="412.0" stroke="#ef5350" stroke-width="1"/>
<rect x="607.81" y="402.6" width="2.0" height="7.4" fill="#ef5350"/>
<line x1="612.28" y1="398.0" x2="612.28" y2="417.0" stroke="#ef5350" stroke-width="1"/>
<rect x="611.28" y="400.0" width="2.0" height="15.0" fill="#ef5350"/>
<line x1="615.75" y1="406.0" x2="615.75" y2="417.0" stroke="#26a69a" stroke-width="1"/>
<rect x="614.75" y="408.9" width="2.0" height="6.1" fill="#26a69a"/>
<line x1="619.22" y1="406.0" x2="619.22" y2="417.0" stroke="#ef5350" stroke-width="1"/>
<rect x="618.22" y="408.9" width="2.0" height="6.1" fill="#ef5350"/>
<line x1="622.69" y1="365.0" x2="622.69" y2="415.0" stroke="#26a69a" stroke-width="1"/>
<rect x="621.69" y="367.6" width="2.0" height="45.0" fill="#26a69a"/>
<line x1="626.15" y1="343.0" x2="626.15" y2="368.0" stroke="#26a69a" stroke-width="1"/>
<rect x="625.15" y="345.0" width="2.0" height="21.3" fill="#26a69a"/>
<line x1="629.62" y1="338.8" x2="629.62" y2="367.0" stroke="#ef5350" stroke-width="1"/>
<rect x="628.62" y="345.0" width="2.0" height="20.0" fill="#ef5350"/>
<line x1="633.09" y1="359.0" x2="633.09" y2="398.0" stroke="#ef5350" stroke-width="1"/>
<rect x="632.09" y="361.3" width="2.0" height="35.1" fill="#ef5350"/>
<line x1="636.56" y1="389.0" x2="636.56" y2="397.0" stroke="#ef5350" stroke-width="1"/>
<rect x="635.56" y="391.4" width="2.0" height="3.6" fill="#ef5350"/>
<line x1="640.03" y1="385.0" x2="640.03" y2="406.0" stroke="#26a69a" stroke-width="1"/>
<rect x="639.03" y="387.6" width="2.0" height="16.2" fill="#26a69a"/>
<line x1="643.50" y1="383.0" x2="643.50" y2="397.0" stroke="#26a69a" stroke-width="1"/>
<rect x="642.50" y="385.0" width="2.0" height="10.0" fill="#26a69a"/>
<line x1="646.97" y1="383.0" x2="646.97" y2="392.0" stroke="#26a69a" stroke-width="1"/>
<rect x="645.97" y="385.0" width="2.0" height="5.0" fill="#26a69a"/>
<line x1="650.44" y1="379.0" x2="650.44" y2="400.0" stroke="#ef5350" stroke-width="1"/>
<rect x="649.44" y="381.3" width="2.0" height="16.3" fill="#ef5350"/>
<line x1="653.91" y1="396.0" x2="653.91" y2="405.0" stroke="#26a69a" stroke-width="1"/>
<rect x="652.91" y="398.9" width="2.0" height="3.7" fill="#26a69a"/>
<line x1="657.38" y1="373.0" x2="657.38" y2="400.0" stroke="#26a69a" stroke-width="1"/>
<rect x="656.38" y="375.0" width="2.0" height="22.6" fill="#26a69a"/>
<line x1="660.85" y1="361.9" x2="660.85" y2="379.1" stroke="#26a69a" stroke-width="1"/>
<rect x="659.85" y="365.0" width="2.0" height="10.0" fill="#26a69a"/>
<line x1="664.31" y1="357.7" x2="664.31" y2="371.9" stroke="#26a69a" stroke-width="1"/>
<rect x="663.31" y="360.0" width="2.0" height="10.0" fill="#26a69a"/>
<line x1="667.78" y1="334.8" x2="667.78" y2="369.9" stroke="#26a69a" stroke-width="1"/>
<rect x="666.78" y="339.0" width="2.0" height="26.0" fill="#26a69a"/>
<line x1="671.25" y1="319.6" x2="671.25" y2="344.2" stroke="#26a69a" stroke-width="1"/>
<rect x="670.25" y="324.0" width="2.0" height="16.0" fill="#26a69a"/>
<line x1="674.72" y1="319.7" x2="674.72" y2="341.7" stroke="#ef5350" stroke-width="1"/>
<rect x="673.72" y="324.0" width="2.0" height="13.7" fill="#ef5350"/>
<line x1="678.19" y1="323.1" x2="678.19" y2="342.1" stroke="#26a69a" stroke-width="1"/>
<rect x="677.19" y="325.0" width="2.0" height="14.0" fill="#26a69a"/>
<line x1="681.66" y1="315.0" x2="681.66" y2="335.0" stroke="#ef5350" stroke-width="1"/>
<rect x="680.66" y="317.7" width="2.0" height="11.3" fill="#ef5350"/>
<line x1="685.13" y1="305.3" x2="685.13" y2="320.1" stroke="#26a69a" stroke-width="1"/>
<rect x="684.13" y="307.7" width="2.0" height="11.3" fill="#26a69a"/>
<line x1="688.60" y1="292.9" x2="688.60" y2="309.8" stroke="#26a69a" stroke-width="1"/>
<rect x="687.60" y="294.0" width="2.0" height="13.7" fill="#26a69a"/>
<line x1="692.07" y1="283.0" x2="692.07" y2="300.0" stroke="#26a69a" stroke-width="1"/>
<rect x="691.07" y="285.0" width="2.0" height="12.6" fill="#26a69a"/>
<line x1="695.53" y1="280.0" x2="695.53" y2="300.0" stroke="#ef5350" stroke-width="1"/>
<rect x="694.53" y="285.0" width="2.0" height="10.0" fill="#ef5350"/>
<line x1="699.00" y1="288.0" x2="699.00" y2="308.8" stroke="#ef5350" stroke-width="1"/>
<rect x="698.00" y="290.0" width="2.0" height="15.0" fill="#ef5350"/>
<line x1="702.47" y1="295.2" x2="702.47" y2="312.8" stroke="#ef5350" stroke-width="1"/>
<rect x="701.47" y="300.0" width="2.0" height="10.0" fill="#ef5350"/>
<line x1="705.94" y1="303.0" x2="705.94" y2="326.0" stroke="#ef5350" stroke-width="1"/>
<rect x="704.94" y="305.0" width="2.0" height="14.0" fill="#ef5350"/>
<line x1="709.41" y1="294.3" x2="709.41" y2="322.7" stroke="#26a69a" stroke-width="1"/>
<rect x="708.41" y="299.0" width="2.0" height="18.7" fill="#26a69a"/>
<line x1="712.88" y1="289.0" x2="712.88" y2="306.0" stroke="#ef5350" stroke-width="1"/>
<rect x="711.88" y="299.0" width="2.0" height="5.0" fill="#ef5350"/>
<line x1="716.35" y1="292.8" x2="716.35" y2="315.2" stroke="#26a69a" stroke-width="1"/>
<rect x="715.35" y="297.6" width="2.0" height="15.1" fill="#26a69a"/>
<line x1="719.82" y1="295.7" x2="719.82" y2="313.3" stroke="#ef5350" stroke-width="1"/>
<rect x="718.82" y="297.6" width="2.0" height="13.8" fill="#ef5350"/>
<line x1="723.29" y1="293.2" x2="723.29" y2="319.5" stroke="#ef5350" stroke-width="1"/>
<rect x="722.29" y="295.0" width="2.0" height="22.7" fill="#ef5350"/>
<line x1="726.76" y1="301.5" x2="726.76" y2="322.3" stroke="#26a69a" stroke-width="1"/>
<rect x="725.76" y="305.0" width="2.0" height="12.7" fill="#26a69a"/>
<line x1="730.23" y1="298.2" x2="730.23" y2="312.9" stroke="#26a69a" stroke-width="1"/>
<rect x="729.23" y="302.6" width="2.0" height="7.4" fill="#26a69a"/>
<line x1="733.69" y1="289.0" x2="733.69" y2="310.6" stroke="#26a69a" stroke-width="1"/>
<rect x="732.69" y="292.6" width="2.0" height="13.8" fill="#26a69a"/>
<line x1="737.16" y1="291.3" x2="737.16" y2="308.6" stroke="#ef5350" stroke-width="1"/>
<rect x="736.16" y="292.6" width="2.0" height="12.4" fill="#ef5350"/>
<line x1="740.63" y1="265.4" x2="740.63" y2="301.7" stroke="#26a69a" stroke-width="1"/>
<rect x="739.63" y="270.0" width="2.0" height="27.6" fill="#26a69a"/>
<line x1="744.10" y1="258.6" x2="744.10" y2="295.5" stroke="#26a69a" stroke-width="1"/>
<rect x="743.10" y="262.6" width="2.0" height="30.0" fill="#26a69a"/>
<line x1="747.57" y1="260.9" x2="747.57" y2="274.2" stroke="#26a69a" stroke-width="1"/>
<rect x="746.57" y="262.6" width="2.0" height="7.4" fill="#26a69a"/>
<line x1="751.04" y1="260.3" x2="751.04" y2="276.8" stroke="#ef5350" stroke-width="1"/>
<rect x="750.04" y="262.6" width="2.0" height="10.0" fill="#ef5350"/>
<line x1="754.51" y1="251.4" x2="754.51" y2="275.2" stroke="#26a69a" stroke-width="1"/>
<rect x="753.51" y="256.3" width="2.0" height="16.3" fill="#26a69a"/>
<line x1="757.98" y1="237.4" x2="757.98" y2="269.8" stroke="#26a69a" stroke-width="1"/>
<rect x="756.98" y="240.0" width="2.0" height="25.0" fill="#26a69a"/>
<line x1="761.45" y1="223.6" x2="761.45" y2="243.0" stroke="#26a69a" stroke-width="1"/>
<rect x="760.45" y="227.5" width="2.0" height="13.8" fill="#26a69a"/>
<line x1="764.91" y1="228.5" x2="764.91" y2="244.2" stroke="#ef5350" stroke-width="1"/>
<rect x="763.91" y="230.0" width="2.0" height="12.6" fill="#ef5350"/>
<line x1="768.38" y1="216.4" x2="768.38" y2="234.2" stroke="#26a69a" stroke-width="1"/>
<rect x="767.38" y="221.0" width="2.0" height="9.0" fill="#26a69a"/>
<line x1="771.85" y1="214.7" x2="771.85" y2="228.1" stroke="#26a69a" stroke-width="1"/>
<rect x="770.85" y="216.3" width="2.0" height="7.5" fill="#26a69a"/>
<line x1="775.32" y1="205.1" x2="775.32" y2="223.6" stroke="#26a69a" stroke-width="1"/>
<rect x="774.32" y="210.0" width="2.0" height="10.0" fill="#26a69a"/>
<line x1="778.79" y1="205.0" x2="778.79" y2="222.0" stroke="#ef5350" stroke-width="1"/>
<rect x="777.79" y="206.3" width="2.0" height="13.7" fill="#ef5350"/>
<line x1="782.26" y1="208.9" x2="782.26" y2="223.2" stroke="#26a69a" stroke-width="1"/>
<rect x="781.26" y="211.3" width="2.0" height="8.7" fill="#26a69a"/>
<line x1="785.73" y1="209.8" x2="785.73" y2="221.1" stroke="#ef5350" stroke-width="1"/>
<rect x="784.73" y="211.3" width="2.0" height="8.7" fill="#ef5350"/>
<line x1="789.20" y1="207.6" x2="789.20" y2="219.9" stroke="#26a69a" stroke-width="1"/>
<rect x="788.20" y="212.5" width="2.0" height="3.8" fill="#26a69a"/>
<line x1="792.67" y1="209.4" x2="792.67" y2="234.7" stroke="#ef5350" stroke-width="1"/>
<rect x="791.67" y="212.5" width="2.0" height="17.5" fill="#ef5350"/>
<line x1="796.14" y1="218.6" x2="796.14" y2="264.5" stroke="#ef5350" stroke-width="1"/>
<rect x="795.14" y="221.3" width="2.0" height="38.7" fill="#ef5350"/>
<line x1="799.61" y1="238.3" x2="799.61" y2="274.4" stroke="#ef5350" stroke-width="1"/>
<rect x="798.61" y="242.6" width="2.0" height="30.0" fill="#ef5350"/>
<line x1="803.07" y1="270.6" x2="803.07" y2="296.2" stroke="#ef5350" stroke-width="1"/>
<rect x="802.07" y="272.6" width="2.0" height="21.4" fill="#ef5350"/>
<line x1="806.54" y1="289.4" x2="806.54" y2="333.3" stroke="#ef5350" stroke-width="1"/>
<rect x="805.54" y="291.4" width="2.0" height="38.6" fill="#ef5350"/>
<line x1="810.01" y1="323.0" x2="810.01" y2="340.0" stroke="#ef5350" stroke-width="1"/>
<rect x="809.01" y="325.0" width="2.0" height="9.0" fill="#ef5350"/>
<line x1="813.48" y1="312.0" x2="813.48" y2="340.0" stroke="#26a69a" stroke-width="1"/>
<rect x="812.48" y="314.0" width="2.0" height="21.0" fill="#26a69a"/>
<line x1="816.95" y1="307.0" x2="816.95" y2="320.4" stroke="#26a69a" stroke-width="1"/>
<rect x="815.95" y="309.0" width="2.0" height="8.7" fill="#26a69a"/>
<line x1="820.42" y1="308.0" x2="820.42" y2="337.0" stroke="#ef5350" stroke-width="1"/>
<rect x="819.42" y="310.0" width="2.0" height="10.0" fill="#ef5350"/>
<line x1="823.89" y1="296.1" x2="823.89" y2="322.3" stroke="#26a69a" stroke-width="1"/>
<rect x="822.89" y="297.6" width="2.0" height="20.1" fill="#26a69a"/>
<line x1="827.36" y1="286.6" x2="827.36" y2="307.8" stroke="#26a69a" stroke-width="1"/>
<rect x="826.36" y="289.0" width="2.0" height="16.0" fill="#26a69a"/>
<line x1="830.83" y1="259.4" x2="830.83" y2="299.6" stroke="#26a69a" stroke-width="1"/>
<rect x="829.83" y="262.7" width="2.0" height="32.3" fill="#26a69a"/>
<line x1="834.29" y1="263.8" x2="834.29" y2="277.4" stroke="#ef5350" stroke-width="1"/>
<rect x="833.29" y="266.5" width="2.0" height="6.2" fill="#ef5350"/>
<line x1="837.76" y1="264.7" x2="837.76" y2="285.8" stroke="#ef5350" stroke-width="1"/>
<rect x="836.76" y="267.7" width="2.0" height="15.0" fill="#ef5350"/>
<line x1="841.23" y1="276.9" x2="841.23" y2="296.1" stroke="#ef5350" stroke-width="1"/>
<rect x="840.23" y="280.0" width="2.0" height="15.0" fill="#ef5350"/>
<line x1="844.70" y1="291.2" x2="844.70" y2="316.7" stroke="#ef5350" stroke-width="1"/>
<rect x="843.70" y="294.0" width="2.0" height="21.0" fill="#ef5350"/>
<line x1="848.17" y1="275.5" x2="848.17" y2="319.2" stroke="#26a69a" stroke-width="1"/>
<rect x="847.17" y="276.5" width="2.0" height="38.5" fill="#26a69a"/>
<line x1="851.64" y1="253.3" x2="851.64" y2="280.6" stroke="#26a69a" stroke-width="1"/>
<rect x="850.64" y="255.0" width="2.0" height="22.7" fill="#26a69a"/>
<line x1="855.11" y1="231.1" x2="855.11" y2="258.2" stroke="#26a69a" stroke-width="1"/>
<rect x="854.11" y="235.0" width="2.0" height="20.0" fill="#26a69a"/>
<line x1="858.58" y1="232.7" x2="858.58" y2="250.8" stroke="#26a69a" stroke-width="1"/>
<rect x="857.58" y="235.0" width="2.0" height="12.7" fill="#26a69a"/>
<line x1="862.05" y1="226.0" x2="862.05" y2="255.0" stroke="#ef5350" stroke-width="1"/>
<rect x="861.05" y="237.7" width="2.0" height="15.0" fill="#ef5350"/>
<line x1="865.52" y1="249.5" x2="865.52" y2="271.8" stroke="#ef5350" stroke-width="1"/>
<rect x="864.52" y="252.7" width="2.0" height="15.0" fill="#ef5350"/>
<line x1="868.99" y1="248.6" x2="868.99" y2="268.2" stroke="#26a69a" stroke-width="1"/>
<rect x="867.99" y="250.0" width="2.0" height="15.0" fill="#26a69a"/>
<line x1="872.45" y1="233.0" x2="872.45" y2="254.8" stroke="#26a69a" stroke-width="1"/>
<rect x="871.45" y="235.0" width="2.0" height="17.7" fill="#26a69a"/>
<line x1="875.92" y1="225.9" x2="875.92" y2="239.4" stroke="#26a69a" stroke-width="1"/>
<rect x="874.92" y="230.0" width="2.0" height="6.4" fill="#26a69a"/>
<line x1="879.39" y1="206.8" x2="879.39" y2="234.0" stroke="#26a69a" stroke-width="1"/>
<rect x="878.39" y="210.0" width="2.0" height="20.0" fill="#26a69a"/>
<line x1="882.86" y1="201.8" x2="882.86" y2="215.4" stroke="#26a69a" stroke-width="1"/>
<rect x="881.86" y="206.4" width="2.0" height="6.2" fill="#26a69a"/>
<line x1="886.33" y1="191.5" x2="886.33" y2="208.0" stroke="#26a69a" stroke-width="1"/>
<rect x="885.33" y="195.0" width="2.0" height="10.0" fill="#26a69a"/>
<line x1="889.80" y1="191.0" x2="889.80" y2="201.4" stroke="#26a69a" stroke-width="1"/>
<rect x="888.80" y="194.0" width="2.0" height="3.6" fill="#26a69a"/>
<line x1="893.27" y1="177.2" x2="893.27" y2="199.5" stroke="#26a69a" stroke-width="1"/>
<rect x="892.27" y="180.0" width="2.0" height="16.4" fill="#26a69a"/>
<line x1="896.74" y1="179.7" x2="896.74" y2="196.1" stroke="#ef5350" stroke-width="1"/>
<rect x="895.74" y="182.6" width="2.0" height="8.7" fill="#ef5350"/>
<line x1="900.21" y1="186.2" x2="900.21" y2="204.5" stroke="#ef5350" stroke-width="1"/>
<rect x="899.21" y="190.0" width="2.0" height="10.0" fill="#ef5350"/>
<line x1="903.67" y1="175.2" x2="903.67" y2="204.6" stroke="#26a69a" stroke-width="1"/>
<rect x="902.67" y="180.0" width="2.0" height="22.6" fill="#26a69a"/>
<line x1="907.14" y1="180.6" x2="907.14" y2="194.8" stroke="#ef5350" stroke-width="1"/>
<rect x="906.14" y="183.8" width="2.0" height="6.2" fill="#ef5350"/>
<line x1="910.61" y1="185.6" x2="910.61" y2="210.5" stroke="#ef5350" stroke-width="1"/>
<rect x="909.61" y="190.0" width="2.0" height="19.0" fill="#ef5350"/>
<line x1="914.08" y1="188.5" x2="914.08" y2="211.8" stroke="#26a69a" stroke-width="1"/>
<rect x="913.08" y="190.0" width="2.0" height="19.0" fill="#26a69a"/>
<line x1="917.55" y1="176.3" x2="917.55" y2="192.0" stroke="#26a69a" stroke-width="1"/>
<rect x="916.55" y="177.6" width="2.0" height="12.4" fill="#26a69a"/>
<line x1="921.02" y1="177.5" x2="921.02" y2="185.0" stroke="#26a69a" stroke-width="1"/>
<rect x="920.02" y="178.8" width="2.0" height="2.5" fill="#26a69a"/>
<line x1="924.49" y1="162.5" x2="924.49" y2="192.0" stroke="#ef5350" stroke-width="1"/>
<rect x="923.49" y="178.8" width="2.0" height="11.2" fill="#ef5350"/>
<line x1="927.96" y1="179.7" x2="927.96" y2="199.6" stroke="#ef5350" stroke-width="1"/>
<rect x="926.96" y="183.8" width="2.0" height="11.2" fill="#ef5350"/>
<line x1="931.43" y1="182.2" x2="931.43" y2="202.8" stroke="#ef5350" stroke-width="1"/>
<rect x="930.43" y="183.8" width="2.0" height="15.1" fill="#ef5350"/>
<line x1="934.90" y1="181.0" x2="934.90" y2="215.0" stroke="#26a69a" stroke-width="1"/>
<rect x="933.90" y="183.8" width="2.0" height="13.8" fill="#26a69a"/>
<line x1="938.37" y1="175.2" x2="938.37" y2="189.2" stroke="#26a69a" stroke-width="1"/>
<rect x="937.37" y="178.8" width="2.0" height="8.8" fill="#26a69a"/>
<line x1="941.83" y1="150.5" x2="941.83" y2="184.9" stroke="#26a69a" stroke-width="1"/>
<rect x="940.83" y="155.0" width="2.0" height="25.0" fill="#26a69a"/>
<line x1="945.30" y1="153.1" x2="945.30" y2="164.8" stroke="#ef5350" stroke-width="1"/>
<rect x="944.30" y="155.0" width="2.0" height="5.0" fill="#ef5350"/>
<line x1="948.77" y1="152.4" x2="948.77" y2="170.5" stroke="#ef5350" stroke-width="1"/>
<rect x="947.77" y="155.0" width="2.0" height="12.6" fill="#ef5350"/>
<line x1="952.24" y1="148.8" x2="952.24" y2="169.3" stroke="#26a69a" stroke-width="1"/>
<rect x="951.24" y="153.8" width="2.0" height="11.2" fill="#26a69a"/>
<line x1="955.71" y1="153.0" x2="955.71" y2="180.0" stroke="#ef5350" stroke-width="1"/>
<rect x="954.71" y="155.0" width="2.0" height="22.6" fill="#ef5350"/>
<line x1="959.18" y1="163.4" x2="959.18" y2="181.5" stroke="#26a69a" stroke-width="1"/>
<rect x="958.18" y="165.0" width="2.0" height="13.8" fill="#26a69a"/>
<line x1="962.65" y1="160.7" x2="962.65" y2="170.0" stroke="#ef5350" stroke-width="1"/>
<rect x="961.65" y="163.8" width="2.0" height="3.8" fill="#ef5350"/>
<line x1="966.12" y1="158.2" x2="966.12" y2="169.9" stroke="#26a69a" stroke-width="1"/>
<rect x="965.12" y="160.0" width="2.0" height="7.6" fill="#26a69a"/>
<line x1="969.59" y1="148.6" x2="969.59" y2="162.4" stroke="#26a69a" stroke-width="1"/>
<rect x="968.59" y="152.5" width="2.0" height="8.8" fill="#26a69a"/>
<line x1="973.05" y1="150.6" x2="973.05" y2="160.3" stroke="#ef5350" stroke-width="1"/>
<rect x="972.05" y="153.8" width="2.0" height="3.7" fill="#ef5350"/>
<line x1="976.52" y1="152.7" x2="976.52" y2="161.1" stroke="#ef5350" stroke-width="1"/>
<rect x="975.52" y="153.8" width="2.0" height="5.0" fill="#ef5350"/>
<line x1="979.99" y1="141.5" x2="979.99" y2="160.5" stroke="#26a69a" stroke-width="1"/>
<rect x="978.99" y="145.0" width="2.0" height="12.5" fill="#26a69a"/>
<line x1="983.46" y1="143.7" x2="983.46" y2="159.9" stroke="#ef5350" stroke-width="1"/>
<rect x="982.46" y="145.0" width="2.0" height="10.0" fill="#ef5350"/>
<line x1="986.93" y1="133.3" x2="986.93" y2="157.4" stroke="#26a69a" stroke-width="1"/>
<rect x="985.93" y="137.5" width="2.0" height="15.0" fill="#26a69a"/>
<line x1="990.40" y1="129.9" x2="990.40" y2="147.1" stroke="#26a69a" stroke-width="1"/>
<rect x="989.40" y="131.3" width="2.0" height="13.7" fill="#26a69a"/>
<line x1="993.87" y1="127.6" x2="993.87" y2="136.7" stroke="#26a69a" stroke-width="1"/>
<rect x="992.87" y="128.8" width="2.0" height="3.8" fill="#26a69a"/>
<line x1="997.34" y1="119.2" x2="997.34" y2="131.5" stroke="#26a69a" stroke-width="1"/>
<rect x="996.34" y="121.3" width="2.0" height="8.7" fill="#26a69a"/>
<line x1="1000.81" y1="119.9" x2="1000.81" y2="133.4" stroke="#ef5350" stroke-width="1"/>
<rect x="999.81" y="122.6" width="2.0" height="6.2" fill="#ef5350"/>
<line x1="1004.28" y1="119.5" x2="1004.28" y2="137.0" stroke="#ef5350" stroke-width="1"/>
<rect x="1003.28" y="123.8" width="2.0" height="11.2" fill="#ef5350"/>
<line x1="1007.74" y1="117.2" x2="1007.74" y2="131.0" stroke="#26a69a" stroke-width="1"/>
<rect x="1006.74" y="118.8" width="2.0" height="7.5" fill="#26a69a"/>
<line x1="1011.21" y1="111.3" x2="1011.21" y2="163.0" stroke="#ef5350" stroke-width="1"/>
<rect x="1010.21" y="118.0" width="2.0" height="13.0" fill="#ef5350"/>
<line x1="1014.68" y1="125.0" x2="1014.68" y2="135.0" stroke="#26a69a" stroke-width="1"/>
<rect x="1013.68" y="127.6" width="2.0" height="5.0" fill="#26a69a"/>
<line x1="1018.15" y1="126.7" x2="1018.15" y2="148.8" stroke="#ef5350" stroke-width="1"/>
<rect x="1017.15" y="130.0" width="2.0" height="15.0" fill="#ef5350"/>
<line x1="1021.62" y1="123.6" x2="1021.62" y2="143.8" stroke="#26a69a" stroke-width="1"/>
<rect x="1020.62" y="125.0" width="2.0" height="17.6" fill="#26a69a"/>
<line x1="1025.09" y1="126.2" x2="1025.09" y2="140.3" stroke="#ef5350" stroke-width="1"/>
<rect x="1024.09" y="130.0" width="2.0" height="7.6" fill="#ef5350"/>
<line x1="1028.56" y1="131.3" x2="1028.56" y2="151.2" stroke="#26a69a" stroke-width="1"/>
<rect x="1027.56" y="132.6" width="2.0" height="13.8" fill="#26a69a"/>
<line x1="1032.03" y1="124.1" x2="1032.03" y2="141.8" stroke="#26a69a" stroke-width="1"/>
<rect x="1031.03" y="127.6" width="2.0" height="10.0" fill="#26a69a"/>
<line x1="1035.50" y1="117.5" x2="1035.50" y2="137.0" stroke="#26a69a" stroke-width="1"/>
<rect x="1034.50" y="118.8" width="2.0" height="13.8" fill="#26a69a"/>
<line x1="1038.97" y1="117.5" x2="1038.97" y2="128.3" stroke="#26a69a" stroke-width="1"/>
<rect x="1037.97" y="118.8" width="2.0" height="5.0" fill="#26a69a"/>
<line x1="1042.43" y1="116.0" x2="1042.43" y2="127.4" stroke="#26a69a" stroke-width="1"/>
<rect x="1041.43" y="118.8" width="2.0" height="6.2" fill="#26a69a"/>
<line x1="1045.90" y1="115.6" x2="1045.90" y2="127.3" stroke="#26a69a" stroke-width="1"/>
<rect x="1044.90" y="118.8" width="2.0" height="3.8" fill="#26a69a"/>
<line x1="1049.37" y1="116.7" x2="1049.37" y2="124.1" stroke="#ef5350" stroke-width="1"/>
<rect x="1048.37" y="118.8" width="2.0" height="3.8" fill="#ef5350"/>
<line x1="1052.84" y1="115.7" x2="1052.84" y2="123.3" stroke="#26a69a" stroke-width="1"/>
<rect x="1051.84" y="118.8" width="2.0" height="2.5" fill="#26a69a"/>
<line x1="1056.31" y1="116.9" x2="1056.31" y2="121.6" stroke="#26a69a" stroke-width="1"/>
<rect x="1055.31" y="118.3" width="2.0" height="1.7" fill="#26a69a"/>
<line x1="1059.78" y1="117.6" x2="1059.78" y2="124.4" stroke="#ef5350" stroke-width="1"/>
<rect x="1058.78" y="118.8" width="2.0" height="3.8" fill="#ef5350"/>
<line x1="1063.25" y1="114.8" x2="1063.25" y2="122.2" stroke="#26a69a" stroke-width="1"/>
<rect x="1062.25" y="117.0" width="2.0" height="3.0" fill="#26a69a"/>
<line x1="1066.72" y1="104.8" x2="1066.72" y2="121.0" stroke="#26a69a" stroke-width="1"/>
<rect x="1065.72" y="108.8" width="2.0" height="10.0" fill="#26a69a"/>
<line x1="1070.19" y1="100.0" x2="1070.19" y2="114.0" stroke="#26a69a" stroke-width="1"/>
<rect x="1069.19" y="106.3" width="2.0" height="6.3" fill="#26a69a"/>
<line x1="1073.66" y1="104.6" x2="1073.66" y2="125.5" stroke="#ef5350" stroke-width="1"/>
<rect x="1072.66" y="107.6" width="2.0" height="16.2" fill="#ef5350"/>
<line x1="1077.12" y1="117.6" x2="1077.12" y2="132.4" stroke="#ef5350" stroke-width="1"/>
<rect x="1076.12" y="120.0" width="2.0" height="11.3" fill="#ef5350"/>
<line x1="1080.59" y1="82.5" x2="1080.59" y2="132.0" stroke="#26a69a" stroke-width="1"/>
<rect x="1079.59" y="83.8" width="2.0" height="46.2" fill="#26a69a"/>
<line x1="1084.06" y1="83.0" x2="1084.06" y2="101.1" stroke="#ef5350" stroke-width="1"/>
<rect x="1083.06" y="85.0" width="2.0" height="15.0" fill="#ef5350"/>
<line x1="1087.53" y1="96.1" x2="1087.53" y2="109.5" stroke="#ef5350" stroke-width="1"/>
<rect x="1086.53" y="100.0" width="2.0" height="6.3" fill="#ef5350"/>
<line x1="1091.00" y1="103.2" x2="1091.00" y2="122.9" stroke="#ef5350" stroke-width="1"/>
<rect x="1090.00" y="105.0" width="2.0" height="15.0" fill="#ef5350"/>
<line x1="1094.47" y1="109.1" x2="1094.47" y2="130.2" stroke="#26a69a" stroke-width="1"/>
<rect x="1093.47" y="113.8" width="2.0" height="15.0" fill="#26a69a"/>
<line x1="1097.94" y1="100.7" x2="1097.94" y2="117.7" stroke="#26a69a" stroke-width="1"/>
<rect x="1096.94" y="105.0" width="2.0" height="10.0" fill="#26a69a"/>
<line x1="1101.41" y1="92.0" x2="1101.41" y2="111.9" stroke="#26a69a" stroke-width="1"/>
<rect x="1100.41" y="95.0" width="2.0" height="12.6" fill="#26a69a"/>
<line x1="1104.88" y1="86.2" x2="1104.88" y2="100.5" stroke="#26a69a" stroke-width="1"/>
<rect x="1103.88" y="88.8" width="2.0" height="8.7" fill="#26a69a"/>
<line x1="1108.35" y1="81.2" x2="1108.35" y2="97.4" stroke="#26a69a" stroke-width="1"/>
<rect x="1107.35" y="85.0" width="2.0" height="7.5" fill="#26a69a"/>
<line x1="1111.82" y1="81.4" x2="1111.82" y2="93.1" stroke="#26a69a" stroke-width="1"/>
<rect x="1110.82" y="83.8" width="2.0" height="5.0" fill="#26a69a"/>
<line x1="1115.28" y1="81.0" x2="1115.28" y2="112.0" stroke="#ef5350" stroke-width="1"/>
<rect x="1114.28" y="83.8" width="2.0" height="26.2" fill="#ef5350"/>
<line x1="1118.75" y1="83.7" x2="1118.75" y2="111.1" stroke="#26a69a" stroke-width="1"/>
<rect x="1117.75" y="87.5" width="2.0" height="20.1" fill="#26a69a"/>
<line x1="1122.22" y1="86.2" x2="1122.22" y2="111.2" stroke="#ef5350" stroke-width="1"/>
<rect x="1121.22" y="88.8" width="2.0" height="20.0" fill="#ef5350"/>
<line x1="1125.69" y1="100.1" x2="1125.69" y2="125.3" stroke="#ef5350" stroke-width="1"/>
<rect x="1124.69" y="101.3" width="2.0" height="22.5" fill="#ef5350"/>
<line x1="1129.16" y1="118.7" x2="1129.16" y2="151.6" stroke="#ef5350" stroke-width="1"/>
<rect x="1128.16" y="120.0" width="2.0" height="27.6" fill="#ef5350"/>
<line x1="1132.63" y1="138.0" x2="1132.63" y2="165.0" stroke="#26a69a" stroke-width="1"/>
<rect x="1131.63" y="140.0" width="2.0" height="3.9" fill="#26a69a"/>
<line x1="1136.10" y1="118.0" x2="1136.10" y2="144.3" stroke="#26a69a" stroke-width="1"/>
<rect x="1135.10" y="120.0" width="2.0" height="22.6" fill="#26a69a"/>
<line x1="1139.57" y1="120.0" x2="1139.57" y2="129.4" stroke="#26a69a" stroke-width="1"/>
<rect x="1138.57" y="121.3" width="2.0" height="3.7" fill="#26a69a"/>
<line x1="1143.04" y1="115.5" x2="1143.04" y2="131.3" stroke="#ef5350" stroke-width="1"/>
<rect x="1142.04" y="120.0" width="2.0" height="7.6" fill="#ef5350"/>
<line x1="1146.51" y1="120.5" x2="1146.51" y2="142.0" stroke="#ef5350" stroke-width="1"/>
<rect x="1145.51" y="122.6" width="2.0" height="17.4" fill="#ef5350"/>
<line x1="1149.97" y1="136.6" x2="1149.97" y2="164.1" stroke="#ef5350" stroke-width="1"/>
<rect x="1148.97" y="138.8" width="2.0" height="22.5" fill="#ef5350"/>
<line x1="1153.44" y1="150.0" x2="1153.44" y2="168.8" stroke="#ef5350" stroke-width="1"/>
<rect x="1152.44" y="152.5" width="2.0" height="7.5" fill="#ef5350"/>
<line x1="1156.91" y1="145.9" x2="1156.91" y2="167.8" stroke="#26a69a" stroke-width="1"/>
<rect x="1155.91" y="147.5" width="2.0" height="17.5" fill="#26a69a"/>
<line x1="1160.38" y1="141.7" x2="1160.38" y2="177.4" stroke="#ef5350" stroke-width="1"/>
<rect x="1159.38" y="143.8" width="2.0" height="28.8" fill="#ef5350"/>
<line x1="1163.85" y1="160.1" x2="1163.85" y2="178.2" stroke="#26a69a" stroke-width="1"/>
<rect x="1162.85" y="165.0" width="2.0" height="10.0" fill="#26a69a"/>
<line x1="1167.32" y1="163.0" x2="1167.32" y2="179.9" stroke="#ef5350" stroke-width="1"/>
<rect x="1166.32" y="165.0" width="2.0" height="10.0" fill="#ef5350"/>
<line x1="1170.79" y1="161.6" x2="1170.79" y2="170.0" stroke="#26a69a" stroke-width="1"/>
<rect x="1169.79" y="163.8" width="2.0" height="3.8" fill="#26a69a"/>
<line x1="1174.26" y1="163.0" x2="1174.26" y2="267.7" stroke="#ef5350" stroke-width="1"/>
<rect x="1173.26" y="165.0" width="2.0" height="42.6" fill="#ef5350"/>
<line x1="1177.73" y1="212.0" x2="1177.73" y2="251.0" stroke="#26a69a" stroke-width="1"/>
<rect x="1176.73" y="214.0" width="2.0" height="8.6" fill="#26a69a"/>
<line x1="1181.19" y1="184.0" x2="1181.19" y2="211.5" stroke="#26a69a" stroke-width="1"/>
<rect x="1180.19" y="185.0" width="2.0" height="24.0" fill="#26a69a"/>
<line x1="1184.66" y1="182.1" x2="1184.66" y2="198.0" stroke="#ef5350" stroke-width="1"/>
<rect x="1183.66" y="185.0" width="2.0" height="10.0" fill="#ef5350"/>
<line x1="1188.13" y1="195.8" x2="1188.13" y2="247.0" stroke="#ef5350" stroke-width="1"/>
<rect x="1187.13" y="197.6" width="2.0" height="46.4" fill="#ef5350"/>
<line x1="1191.60" y1="242.0" x2="1191.60" y2="279.0" stroke="#ef5350" stroke-width="1"/>
<rect x="1190.60" y="244.0" width="2.0" height="26.0" fill="#ef5350"/>
<line x1="1195.07" y1="256.7" x2="1195.07" y2="266.1" stroke="#26a69a" stroke-width="1"/>
<rect x="1194.07" y="257.7" width="2.0" height="6.3" fill="#26a69a"/>
<line x1="1198.54" y1="241.3" x2="1198.54" y2="262.6" stroke="#26a69a" stroke-width="1"/>
<rect x="1197.54" y="242.7" width="2.0" height="17.3" fill="#26a69a"/>
<line x1="1202.01" y1="206.0" x2="1202.01" y2="245.0" stroke="#26a69a" stroke-width="1"/>
<rect x="1201.01" y="227.7" width="2.0" height="15.0" fill="#26a69a"/>
<line x1="1205.48" y1="227.8" x2="1205.48" y2="233.8" stroke="#ef5350" stroke-width="1"/>
<rect x="1204.48" y="229.0" width="2.0" height="3.7" fill="#ef5350"/>
<line x1="1208.95" y1="230.5" x2="1208.95" y2="260.9" stroke="#ef5350" stroke-width="1"/>
<rect x="1207.95" y="232.7" width="2.0" height="26.3" fill="#ef5350"/>
<line x1="1212.42" y1="249.4" x2="1212.42" y2="259.6" stroke="#26a69a" stroke-width="1"/>
<rect x="1211.42" y="252.7" width="2.0" height="3.8" fill="#26a69a"/>
<line x1="1215.88" y1="248.7" x2="1215.88" y2="261.3" stroke="#ef5350" stroke-width="1"/>
<rect x="1214.88" y="252.7" width="2.0" height="5.0" fill="#ef5350"/>
<line x1="1219.35" y1="250.1" x2="1219.35" y2="261.0" stroke="#26a69a" stroke-width="1"/>
<rect x="1218.35" y="254.0" width="2.0" height="2.5" fill="#26a69a"/>
<line x1="1222.82" y1="247.4" x2="1222.82" y2="267.3" stroke="#ef5350" stroke-width="1"/>
<rect x="1221.82" y="250.0" width="2.0" height="15.0" fill="#ef5350"/>
<line x1="1226.29" y1="263.0" x2="1226.29" y2="292.7" stroke="#ef5350" stroke-width="1"/>
<rect x="1225.29" y="265.0" width="2.0" height="7.7" fill="#ef5350"/>
<line x1="1229.76" y1="265.1" x2="1229.76" y2="281.6" stroke="#ef5350" stroke-width="1"/>
<rect x="1228.76" y="270.0" width="2.0" height="10.0" fill="#ef5350"/>
<line x1="1233.23" y1="276.6" x2="1233.23" y2="285.6" stroke="#26a69a" stroke-width="1"/>
<rect x="1232.23" y="280.5" width="2.0" height="1.5" fill="#26a69a"/>
<line x1="1236.70" y1="256.5" x2="1236.70" y2="287.0" stroke="#26a69a" stroke-width="1"/>
<rect x="1235.70" y="257.7" width="2.0" height="25.0" fill="#26a69a"/>
<line x1="1240.17" y1="235.4" x2="1240.17" y2="266.2" stroke="#26a69a" stroke-width="1"/>
<rect x="1239.17" y="240.0" width="2.0" height="22.7" fill="#26a69a"/>
<line x1="1243.64" y1="210.1" x2="1243.64" y2="239.2" stroke="#26a69a" stroke-width="1"/>
<rect x="1242.64" y="214.0" width="2.0" height="21.0" fill="#26a69a"/>
<line x1="1247.11" y1="189.0" x2="1247.11" y2="222.0" stroke="#ef5350" stroke-width="1"/>
<rect x="1246.11" y="214.0" width="2.0" height="6.0" fill="#ef5350"/>
<line x1="1250.58" y1="216.0" x2="1250.58" y2="230.8" stroke="#ef5350" stroke-width="1"/>
<rect x="1249.58" y="217.6" width="2.0" height="10.1" fill="#ef5350"/>
<line x1="1254.04" y1="212.0" x2="1254.04" y2="234.3" stroke="#26a69a" stroke-width="1"/>
<rect x="1253.04" y="215.0" width="2.0" height="15.0" fill="#26a69a"/>
<line x1="1257.51" y1="188.4" x2="1257.51" y2="218.3" stroke="#26a69a" stroke-width="1"/>
<rect x="1256.51" y="192.6" width="2.0" height="21.4" fill="#26a69a"/>
<line x1="1260.98" y1="180.0" x2="1260.98" y2="205.0" stroke="#ef5350" stroke-width="1"/>
<rect x="1259.98" y="192.6" width="2.0" height="10.0" fill="#ef5350"/>
<line x1="1264.45" y1="195.0" x2="1264.45" y2="217.6" stroke="#ef5350" stroke-width="1"/>
<rect x="1263.45" y="197.6" width="2.0" height="10.0" fill="#ef5350"/>
<line x1="1267.92" y1="189.3" x2="1267.92" y2="213.5" stroke="#26a69a" stroke-width="1"/>
<rect x="1266.92" y="192.6" width="2.0" height="16.3" fill="#26a69a"/>
<line x1="1271.39" y1="161.3" x2="1271.39" y2="196.4" stroke="#26a69a" stroke-width="1"/>
<rect x="1270.39" y="165.0" width="2.0" height="27.6" fill="#26a69a"/>
<line x1="1274.86" y1="141.3" x2="1274.86" y2="167.0" stroke="#26a69a" stroke-width="1"/>
<rect x="1273.86" y="147.5" width="2.0" height="17.5" fill="#26a69a"/>
<line x1="1278.33" y1="147.6" x2="1278.33" y2="149.3" stroke="#ef5350" stroke-width="1"/>
<rect x="1277.33" y="148.0" width="2.0" height="1.2" fill="#ef5350"/>
<line x1="1058" y1="98" x2="1370" y2="98" stroke="#ffffff" stroke-width="2"/>
<line x1="73" y1="188.4" x2="1370" y2="188.4" stroke="#ffffff" stroke-width="2.8"/>
<rect x="678.5" y="279.2" width="696.5" height="4.0" rx="1.5" fill="#43464f" stroke="#d6d8dd" stroke-width="1.1"/>
<rect x="660.5" y="319.6" width="714.5" height="4.0" rx="1.5" fill="#43464f" stroke="#d6d8dd" stroke-width="1.1"/>
<text x="149.3" y="69" font-family="Liberation Sans" font-weight="bold" font-size="13.8" fill="#ffffff">October 2022 high</text>
<text x="458.9" y="310.9" font-family="Liberation Sans" font-weight="bold" font-size="13.8" fill="#ffffff">March 2023 high</text>
<text x="513.6" y="508.6" font-family="Liberation Sans" font-weight="bold" font-size="13.8" fill="#ffffff">March 2023 low</text>
<text x="326.4" y="559.2" font-family="Liberation Sans" font-weight="bold" font-size="13.8" fill="#ffffff">January 2023 low</text>
<polygon points="451.5,358.7 1367,-81.2 1367,84.5 451.5,523.5" fill="#464850" fill-opacity="0.24"/>
<line x1="451.5" y1="358.7" x2="1367" y2="-81.2" stroke="#4caf50" stroke-width="3.6" stroke-linecap="round"/>
<line x1="451.5" y1="523.5" x2="1367" y2="84.5" stroke="#4caf50" stroke-width="3.6" stroke-linecap="round"/>
<rect x="143" y="77.7" width="1230" height="4" fill="#4f525b"/>
<line x1="143" y1="82.5" x2="1370" y2="82.5" stroke="#f0f1f3" stroke-width="1.5"/>
<line x1="143.6" y1="77.7" x2="143.6" y2="83.2" stroke="#f0f1f3" stroke-width="1.2"/>
<rect x="164" y="132.2" width="1210" height="5.5" fill="#4c4f58"/>
<line x1="164.6" y1="132.2" x2="164.6" y2="137.7" stroke="#9598a1" stroke-width="1.2"/>
<line x1="913" y1="164.3" x2="1370" y2="164.3" stroke="#ffffff" stroke-width="2.6"/>
<rect x="986.5" y="114.6" width="388.5" height="3.8000000000000114" rx="1.5" fill="#43464f" stroke="#d6d8dd" stroke-width="1.1"/>
<rect x="897.5" y="209.6" width="477.5" height="4.0" rx="1.5" fill="#43464f" stroke="#d6d8dd" stroke-width="1.1"/>
<rect x="886.5" y="236.6" width="488.5" height="4.0" rx="1.5" fill="#43464f" stroke="#d6d8dd" stroke-width="1.1"/>
<rect x="164.5" y="341.5" width="1210.5" height="4.300000000000011" rx="1.5" fill="#43464f" stroke="#d6d8dd" stroke-width="1.1"/>
<line x1="128.7" y1="60" x2="814.5" y2="577" stroke="#f23645" stroke-width="3.7" stroke-linecap="round"/>
<line x1="351.2" y1="537.3" x2="1319.3" y2="278.7" stroke="#1e4ed8" stroke-width="4" stroke-linecap="round"/>
<text x="1055.1" y="67.5" font-family="Liberation Sans" font-weight="bold" font-size="13.8" fill="#ffffff">November 2023 highs</text>
</g>
<line x1="9" y1="577.5" x2="1420" y2="577.5" stroke="#2a2e39" stroke-width="1"/>
<text x="1375.2" y="558.1" font-family="Liberation Sans" font-size="10.1" fill="#b2b5be">126.000</text>
<text x="1375.2" y="521.4" font-family="Liberation Sans" font-size="10.1" fill="#b2b5be">128.000</text>
<text x="1375.2" y="484.7" font-family="Liberation Sans" font-size="10.1" fill="#b2b5be">130.000</text>
<text x="1375.2" y="448.1" font-family="Liberation Sans" font-size="10.1" fill="#b2b5be">132.000</text>
<text x="1375.2" y="411.4" font-family="Liberation Sans" font-size="10.1" fill="#b2b5be">134.000</text>
<text x="1375.2" y="374.7" font-family="Liberation Sans" font-size="10.1" fill="#b2b5be">136.000</text>
<text x="1375.2" y="338.1" font-family="Liberation Sans" font-size="10.1" fill="#b2b5be">138.000</text>
<text x="1375.2" y="301.4" font-family="Liberation Sans" font-size="10.1" fill="#b2b5be">140.000</text>
<text x="1375.2" y="264.7" font-family="Liberation Sans" font-size="10.1" fill="#b2b5be">142.000</text>
<text x="1375.2" y="228.1" font-family="Liberation Sans" font-size="10.1" fill="#b2b5be">144.000</text>
<text x="1375.2" y="191.4" font-family="Liberation Sans" font-size="10.1" fill="#b2b5be">146.000</text>
<text x="1375.2" y="154.7" font-family="Liberation Sans" font-size="10.1" fill="#b2b5be">148.000</text>
<text x="1375.2" y="118.0" font-family="Liberation Sans" font-size="10.1" fill="#b2b5be">150.000</text>
<text x="1375.2" y="81.4" font-family="Liberation Sans" font-size="10.1" fill="#b2b5be">152.000</text>
<text x="1375.2" y="44.7" font-family="Liberation Sans" font-size="10.1" fill="#b2b5be">154.000</text>
<rect x="1367" y="91.1" width="50" height="14.2" rx="1.5" fill="#ffffff"/>
<text x="1375" y="102.0" font-family="Liberation Sans" font-size="10.1" fill="#131722">150.900</text>
<rect x="1323" y="142.3" width="94" height="15.6" rx="2" fill="#ee4d55"/>
<line x1="1367.5" y1="142.3" x2="1367.5" y2="158.3" stroke="#c83a44" stroke-width="1"/>
<text x="1327" y="153.8" font-family="Liberation Sans" font-size="10.1" fill="#ffffff">USDJPY</text>
<text x="1374.5" y="153.8" font-family="Liberation Sans" font-size="10.1" fill="#ffffff">148.087</text>
<text x="1374.5" y="592.6" font-family="Liberation Sans" font-size="10.1" fill="#b2b5be">80.00</text>
<text x="1374.5" y="623.8" font-family="Liberation Sans" font-size="10.1" fill="#b2b5be">60.00</text>
<text x="1374.5" y="655.3" font-family="Liberation Sans" font-size="10.1" fill="#b2b5be">40.00</text>
<g clip-path="url(#cr)"><rect x="9" y="604.6" width="1358" height="62.4" fill="#7e57c2" fill-opacity="0.1"/>
<line x1="9" y1="604.6" x2="1367" y2="604.6" stroke="#9598a1" stroke-width="1" stroke-dasharray="3,3.5" stroke-opacity="0.42"/>
<line x1="9" y1="635.6" x2="1367" y2="635.6" stroke="#9598a1" stroke-width="1" stroke-dasharray="3,3.5" stroke-opacity="0.18"/>
<line x1="9" y1="667" x2="1367" y2="667" stroke="#9598a1" stroke-width="1" stroke-dasharray="3,3.5" stroke-opacity="0.45"/>
</g>
<clipPath id="ob"><rect x="9" y="578" width="1358" height="26.6"/></clipPath><clipPath id="os"><rect x="9" y="667" width="1358" height="14"/></clipPath>
<g clip-path="url(#cr)">
<linearGradient id="gob" x1="0" y1="585" x2="0" y2="604.6" gradientUnits="userSpaceOnUse"><stop offset="0" stop-color="#2e7d32" stop-opacity="0.5"/><stop offset="1" stop-color="#2e7d32" stop-opacity="0.12"/></linearGradient>
<polygon clip-path="url(#ob)" points="8.7,604.6 8.7,624.9 12.1,617.3 15.6,617.3 19.1,608.2 22.5,611.2 26.0,609.2 29.5,602.0 33.0,605.9 36.4,601.6 39.9,590.7 43.4,588.5 46.8,587.4 50.3,605.7 53.8,601.9 57.2,597.0 60.7,612.0 64.2,609.7 67.6,616.8 71.1,613.6 74.6,611.7 78.1,610.3 81.5,627.3 85.0,621.1 88.5,613.4 91.9,613.2 95.4,620.0 98.9,617.2 102.3,615.7 105.8,620.9 109.3,621.4 112.7,617.4 116.2,615.3 119.7,613.5 123.1,611.1 126.6,610.2 130.1,603.8 133.6,599.9 137.0,594.4 140.5,593.6 144.0,591.9 147.4,589.9 150.9,589.1 154.4,621.0 157.8,612.4 161.3,621.4 164.8,635.7 168.2,635.7 171.7,626.9 175.2,619.9 178.7,623.6 182.1,627.5 185.6,625.0 189.1,636.8 192.5,640.1 196.0,642.9 199.5,637.1 202.9,664.5 206.4,670.8 209.9,663.0 213.3,664.9 216.8,658.2 220.3,655.5 223.8,656.6 227.2,645.0 230.7,649.4 234.2,656.4 237.6,658.2 241.1,657.8 244.6,658.7 248.0,660.2 251.5,662.6 255.0,672.7 258.4,675.1 261.9,656.4 265.4,655.5 268.8,657.2 272.3,652.2 275.8,657.7 279.3,648.1 282.7,655.9 286.2,656.4 289.7,641.5 293.1,647.0 296.6,644.0 300.1,664.2 303.5,658.9 307.0,659.8 310.5,654.7 313.9,653.8 317.4,651.6 320.9,646.2 324.4,652.7 327.8,659.5 331.3,661.0 334.8,656.3 338.2,647.9 341.7,640.6 345.2,649.4 348.6,651.3 352.1,647.1 355.6,645.8 359.0,658.9 362.5,663.4 366.0,658.6 369.4,660.3 372.9,654.8 376.4,658.3 379.9,642.9 383.3,642.6 386.8,645.5 390.3,647.8 393.7,641.3 397.2,645.9 400.7,641.6 404.1,643.4 407.6,649.1 411.1,650.9 414.5,634.5 418.0,626.4 421.5,635.7 425.0,633.2 428.4,632.9 431.9,634.1 435.4,628.6 438.8,623.4 442.3,619.3 445.8,623.4 449.2,619.4 452.7,620.0 456.2,616.3 459.6,619.9 463.1,619.5 466.6,611.5 470.1,612.6 473.5,611.4 477.0,611.2 480.5,607.9 483.9,618.8 487.4,616.1 490.9,610.2 494.3,609.1 497.8,623.8 501.3,633.1 504.7,645.9 508.2,637.5 511.7,647.7 515.1,640.7 518.6,651.1 522.1,653.2 525.6,643.8 529.0,650.5 532.5,653.2 536.0,654.5 539.4,646.1 542.9,651.9 546.4,636.9 549.8,638.9 553.3,631.6 556.8,639.5 560.2,642.5 563.7,645.4 567.2,640.9 570.7,634.0 574.1,629.2 577.6,630.1 581.1,635.7 584.5,638.0 588.0,629.5 591.5,625.3 594.9,623.7 598.4,623.7 601.9,628.5 605.3,626.5 608.8,631.4 612.3,633.8 615.7,631.0 619.2,634.2 622.7,615.6 626.2,609.2 629.6,619.2 633.1,632.4 636.6,631.9 640.0,629.2 643.5,628.2 647.0,628.2 650.4,634.3 653.9,634.9 657.4,624.6 660.8,620.8 664.3,618.9 667.8,611.6 671.3,607.1 674.7,615.2 678.2,611.2 681.7,613.6 685.1,607.0 688.6,603.3 692.1,601.0 695.5,607.4 699.0,613.6 702.5,616.6 705.9,622.0 709.4,614.5 712.9,617.5 716.3,615.1 719.8,623.6 723.3,627.3 726.8,621.6 730.2,620.6 733.7,616.4 737.2,624.4 740.6,611.0 744.1,608.7 747.6,608.7 751.0,615.4 754.5,609.6 758.0,604.5 761.4,601.0 764.9,611.0 768.4,604.6 771.9,603.3 775.3,601.6 778.8,608.5 782.3,605.7 785.7,611.7 789.2,609.1 792.7,620.5 796.1,636.2 799.6,641.6 803.1,649.9 806.5,660.8 810.0,661.9 813.5,651.7 817.0,649.3 820.4,653.0 823.9,642.4 827.4,638.7 830.8,628.4 834.3,632.6 837.8,636.7 841.2,641.6 844.7,648.7 848.2,633.2 851.6,626.2 855.1,620.4 858.6,620.4 862.0,627.9 865.5,633.8 869.0,627.7 872.5,623.0 875.9,621.4 879.4,615.5 882.9,614.5 886.3,611.2 889.8,611.0 893.3,607.0 896.7,613.5 900.2,618.3 903.7,611.9 907.1,617.4 910.6,627.0 914.1,620.3 917.6,616.3 921.0,617.0 924.5,623.0 928.0,625.6 931.4,627.7 934.9,621.4 938.4,619.4 941.8,610.9 945.3,614.0 948.8,618.7 952.2,613.6 955.7,627.2 959.2,622.2 962.6,623.6 966.1,620.5 969.6,617.6 973.1,620.7 976.5,621.6 980.0,615.5 983.5,622.3 986.9,614.9 990.4,612.5 993.9,611.5 997.3,608.6 1000.8,614.4 1004.3,619.1 1007.7,611.9 1011.2,620.8 1014.7,619.2 1018.2,630.8 1021.6,621.2 1025.1,628.8 1028.6,626.4 1032.0,624.0 1035.5,619.8 1039.0,619.8 1042.4,619.8 1045.9,619.8 1049.4,623.1 1052.8,620.7 1056.3,620.4 1059.8,624.6 1063.2,620.6 1066.7,615.2 1070.2,613.6 1073.7,630.9 1077.1,637.0 1080.6,610.5 1084.1,621.8 1087.5,625.8 1091.0,634.0 1094.5,630.7 1097.9,626.2 1101.4,621.3 1104.9,618.5 1108.3,616.7 1111.8,616.2 1115.3,634.3 1118.8,623.1 1122.2,634.9 1125.7,642.0 1129.2,651.6 1132.6,647.5 1136.1,637.6 1139.6,638.1 1143.0,641.1 1146.5,646.5 1150.0,654.8 1153.4,654.0 1156.9,646.7 1160.4,656.2 1163.8,651.8 1167.3,655.5 1170.8,649.0 1174.3,663.1 1177.7,664.8 1181.2,649.9 1184.7,653.0 1188.1,665.6 1191.6,670.7 1195.1,664.9 1198.5,658.2 1202.0,651.8 1205.5,653.2 1208.9,660.0 1212.4,657.1 1215.9,658.4 1219.4,656.6 1222.8,659.8 1226.3,661.9 1229.8,664.0 1233.2,664.1 1236.7,650.9 1240.2,642.1 1243.6,631.2 1247.1,633.8 1250.6,637.1 1254.0,631.7 1257.5,623.2 1261.0,627.9 1264.5,630.3 1267.9,624.4 1271.4,615.1 1274.9,610.2 1278.3,611.1 1278.3,604.6" fill="url(#gob)"/>
<polygon clip-path="url(#os)" points="8.7,667 8.7,624.9 12.1,617.3 15.6,617.3 19.1,608.2 22.5,611.2 26.0,609.2 29.5,602.0 33.0,605.9 36.4,601.6 39.9,590.7 43.4,588.5 46.8,587.4 50.3,605.7 53.8,601.9 57.2,597.0 60.7,612.0 64.2,609.7 67.6,616.8 71.1,613.6 74.6,611.7 78.1,610.3 81.5,627.3 85.0,621.1 88.5,613.4 91.9,613.2 95.4,620.0 98.9,617.2 102.3,615.7 105.8,620.9 109.3,621.4 112.7,617.4 116.2,615.3 119.7,613.5 123.1,611.1 126.6,610.2 130.1,603.8 133.6,599.9 137.0,594.4 140.5,593.6 144.0,591.9 147.4,589.9 150.9,589.1 154.4,621.0 157.8,612.4 161.3,621.4 164.8,635.7 168.2,635.7 171.7,626.9 175.2,619.9 178.7,623.6 182.1,627.5 185.6,625.0 189.1,636.8 192.5,640.1 196.0,642.9 199.5,637.1 202.9,664.5 206.4,670.8 209.9,663.0 213.3,664.9 216.8,658.2 220.3,655.5 223.8,656.6 227.2,645.0 230.7,649.4 234.2,656.4 237.6,658.2 241.1,657.8 244.6,658.7 248.0,660.2 251.5,662.6 255.0,672.7 258.4,675.1 261.9,656.4 265.4,655.5 268.8,657.2 272.3,652.2 275.8,657.7 279.3,648.1 282.7,655.9 286.2,656.4 289.7,641.5 293.1,647.0 296.6,644.0 300.1,664.2 303.5,658.9 307.0,659.8 310.5,654.7 313.9,653.8 317.4,651.6 320.9,646.2 324.4,652.7 327.8,659.5 331.3,661.0 334.8,656.3 338.2,647.9 341.7,640.6 345.2,649.4 348.6,651.3 352.1,647.1 355.6,645.8 359.0,658.9 362.5,663.4 366.0,658.6 369.4,660.3 372.9,654.8 376.4,658.3 379.9,642.9 383.3,642.6 386.8,645.5 390.3,647.8 393.7,641.3 397.2,645.9 400.7,641.6 404.1,643.4 407.6,649.1 411.1,650.9 414.5,634.5 418.0,626.4 421.5,635.7 425.0,633.2 428.4,632.9 431.9,634.1 435.4,628.6 438.8,623.4 442.3,619.3 445.8,623.4 449.2,619.4 452.7,620.0 456.2,616.3 459.6,619.9 463.1,619.5 466.6,611.5 470.1,612.6 473.5,611.4 477.0,611.2 480.5,607.9 483.9,618.8 487.4,616.1 490.9,610.2 494.3,609.1 497.8,623.8 501.3,633.1 504.7,645.9 508.2,637.5 511.7,647.7 515.1,640.7 518.6,651.1 522.1,653.2 525.6,643.8 529.0,650.5 532.5,653.2 536.0,654.5 539.4,646.1 542.9,651.9 546.4,636.9 549.8,638.9 553.3,631.6 556.8,639.5 560.2,642.5 563.7,645.4 567.2,640.9 570.7,634.0 574.1,629.2 577.6,630.1 581.1,635.7 584.5,638.0 588.0,629.5 591.5,625.3 594.9,623.7 598.4,623.7 601.9,628.5 605.3,626.5 608.8,631.4 612.3,633.8 615.7,631.0 619.2,634.2 622.7,615.6 626.2,609.2 629.6,619.2 633.1,632.4 636.6,631.9 640.0,629.2 643.5,628.2 647.0,628.2 650.4,634.3 653.9,634.9 657.4,624.6 660.8,620.8 664.3,618.9 667.8,611.6 671.3,607.1 674.7,615.2 678.2,611.2 681.7,613.6 685.1,607.0 688.6,603.3 692.1,601.0 695.5,607.4 699.0,613.6 702.5,616.6 705.9,622.0 709.4,614.5 712.9,617.5 716.3,615.1 719.8,623.6 723.3,627.3 726.8,621.6 730.2,620.6 733.7,616.4 737.2,624.4 740.6,611.0 744.1,608.7 747.6,608.7 751.0,615.4 754.5,609.6 758.0,604.5 761.4,601.0 764.9,611.0 768.4,604.6 771.9,603.3 775.3,601.6 778.8,608.5 782.3,605.7 785.7,611.7 789.2,609.1 792.7,620.5 796.1,636.2 799.6,641.6 803.1,649.9 806.5,660.8 810.0,661.9 813.5,651.7 817.0,649.3 820.4,653.0 823.9,642.4 827.4,638.7 830.8,628.4 834.3,632.6 837.8,636.7 841.2,641.6 844.7,648.7 848.2,633.2 851.6,626.2 855.1,620.4 858.6,620.4 862.0,627.9 865.5,633.8 869.0,627.7 872.5,623.0 875.9,621.4 879.4,615.5 882.9,614.5 886.3,611.2 889.8,611.0 893.3,607.0 896.7,613.5 900.2,618.3 903.7,611.9 907.1,617.4 910.6,627.0 914.1,620.3 917.6,616.3 921.0,617.0 924.5,623.0 928.0,625.6 931.4,627.7 934.9,621.4 938.4,619.4 941.8,610.9 945.3,614.0 948.8,618.7 952.2,613.6 955.7,627.2 959.2,622.2 962.6,623.6 966.1,620.5 969.6,617.6 973.1,620.7 976.5,621.6 980.0,615.5 983.5,622.3 986.9,614.9 990.4,612.5 993.9,611.5 997.3,608.6 1000.8,614.4 1004.3,619.1 1007.7,611.9 1011.2,620.8 1014.7,619.2 1018.2,630.8 1021.6,621.2 1025.1,628.8 1028.6,626.4 1032.0,624.0 1035.5,619.8 1039.0,619.8 1042.4,619.8 1045.9,619.8 1049.4,623.1 1052.8,620.7 1056.3,620.4 1059.8,624.6 1063.2,620.6 1066.7,615.2 1070.2,613.6 1073.7,630.9 1077.1,637.0 1080.6,610.5 1084.1,621.8 1087.5,625.8 1091.0,634.0 1094.5,630.7 1097.9,626.2 1101.4,621.3 1104.9,618.5 1108.3,616.7 1111.8,616.2 1115.3,634.3 1118.8,623.1 1122.2,634.9 1125.7,642.0 1129.2,651.6 1132.6,647.5 1136.1,637.6 1139.6,638.1 1143.0,641.1 1146.5,646.5 1150.0,654.8 1153.4,654.0 1156.9,646.7 1160.4,656.2 1163.8,651.8 1167.3,655.5 1170.8,649.0 1174.3,663.1 1177.7,664.8 1181.2,649.9 1184.7,653.0 1188.1,665.6 1191.6,670.7 1195.1,664.9 1198.5,658.2 1202.0,651.8 1205.5,653.2 1208.9,660.0 1212.4,657.1 1215.9,658.4 1219.4,656.6 1222.8,659.8 1226.3,661.9 1229.8,664.0 1233.2,664.1 1236.7,650.9 1240.2,642.1 1243.6,631.2 1247.1,633.8 1250.6,637.1 1254.0,631.7 1257.5,623.2 1261.0,627.9 1264.5,630.3 1267.9,624.4 1271.4,615.1 1274.9,610.2 1278.3,611.1 1278.3,667" fill="#c62828" fill-opacity="0.18"/>
<polyline fill="none" stroke="#7e57c2" stroke-width="1.0" stroke-linejoin="round" points="8.7,624.9 12.1,617.3 15.6,617.3 19.1,608.2 22.5,611.2 26.0,609.2 29.5,602.0 33.0,605.9 36.4,601.6 39.9,590.7 43.4,588.5 46.8,587.4 50.3,605.7 53.8,601.9 57.2,597.0 60.7,612.0 64.2,609.7 67.6,616.8 71.1,613.6 74.6,611.7 78.1,610.3 81.5,627.3 85.0,621.1 88.5,613.4 91.9,613.2 95.4,620.0 98.9,617.2 102.3,615.7 105.8,620.9 109.3,621.4 112.7,617.4 116.2,615.3 119.7,613.5 123.1,611.1 126.6,610.2 130.1,603.8 133.6,599.9 137.0,594.4 140.5,593.6 144.0,591.9 147.4,589.9 150.9,589.1 154.4,621.0 157.8,612.4 161.3,621.4 164.8,635.7 168.2,635.7 171.7,626.9 175.2,619.9 178.7,623.6 182.1,627.5 185.6,625.0 189.1,636.8 192.5,640.1 196.0,642.9 199.5,637.1 202.9,664.5 206.4,670.8 209.9,663.0 213.3,664.9 216.8,658.2 220.3,655.5 223.8,656.6 227.2,645.0 230.7,649.4 234.2,656.4 237.6,658.2 241.1,657.8 244.6,658.7 248.0,660.2 251.5,662.6 255.0,672.7 258.4,675.1 261.9,656.4 265.4,655.5 268.8,657.2 272.3,652.2 275.8,657.7 279.3,648.1 282.7,655.9 286.2,656.4 289.7,641.5 293.1,647.0 296.6,644.0 300.1,664.2 303.5,658.9 307.0,659.8 310.5,654.7 313.9,653.8 317.4,651.6 320.9,646.2 324.4,652.7 327.8,659.5 331.3,661.0 334.8,656.3 338.2,647.9 341.7,640.6 345.2,649.4 348.6,651.3 352.1,647.1 355.6,645.8 359.0,658.9 362.5,663.4 366.0,658.6 369.4,660.3 372.9,654.8 376.4,658.3 379.9,642.9 383.3,642.6 386.8,645.5 390.3,647.8 393.7,641.3 397.2,645.9 400.7,641.6 404.1,643.4 407.6,649.1 411.1,650.9 414.5,634.5 418.0,626.4 421.5,635.7 425.0,633.2 428.4,632.9 431.9,634.1 435.4,628.6 438.8,623.4 442.3,619.3 445.8,623.4 449.2,619.4 452.7,620.0 456.2,616.3 459.6,619.9 463.1,619.5 466.6,611.5 470.1,612.6 473.5,611.4 477.0,611.2 480.5,607.9 483.9,618.8 487.4,616.1 490.9,610.2 494.3,609.1 497.8,623.8 501.3,633.1 504.7,645.9 508.2,637.5 511.7,647.7 515.1,640.7 518.6,651.1 522.1,653.2 525.6,643.8 529.0,650.5 532.5,653.2 536.0,654.5 539.4,646.1 542.9,651.9 546.4,636.9 549.8,638.9 553.3,631.6 556.8,639.5 560.2,642.5 563.7,645.4 567.2,640.9 570.7,634.0 574.1,629.2 577.6,630.1 581.1,635.7 584.5,638.0 588.0,629.5 591.5,625.3 594.9,623.7 598.4,623.7 601.9,628.5 605.3,626.5 608.8,631.4 612.3,633.8 615.7,631.0 619.2,634.2 622.7,615.6 626.2,609.2 629.6,619.2 633.1,632.4 636.6,631.9 640.0,629.2 643.5,628.2 647.0,628.2 650.4,634.3 653.9,634.9 657.4,624.6 660.8,620.8 664.3,618.9 667.8,611.6 671.3,607.1 674.7,615.2 678.2,611.2 681.7,613.6 685.1,607.0 688.6,603.3 692.1,601.0 695.5,607.4 699.0,613.6 702.5,616.6 705.9,622.0 709.4,614.5 712.9,617.5 716.3,615.1 719.8,623.6 723.3,627.3 726.8,621.6 730.2,620.6 733.7,616.4 737.2,624.4 740.6,611.0 744.1,608.7 747.6,608.7 751.0,615.4 754.5,609.6 758.0,604.5 761.4,601.0 764.9,611.0 768.4,604.6 771.9,603.3 775.3,601.6 778.8,608.5 782.3,605.7 785.7,611.7 789.2,609.1 792.7,620.5 796.1,636.2 799.6,641.6 803.1,649.9 806.5,660.8 810.0,661.9 813.5,651.7 817.0,649.3 820.4,653.0 823.9,642.4 827.4,638.7 830.8,628.4 834.3,632.6 837.8,636.7 841.2,641.6 844.7,648.7 848.2,633.2 851.6,626.2 855.1,620.4 858.6,620.4 862.0,627.9 865.5,633.8 869.0,627.7 872.5,623.0 875.9,621.4 879.4,615.5 882.9,614.5 886.3,611.2 889.8,611.0 893.3,607.0 896.7,613.5 900.2,618.3 903.7,611.9 907.1,617.4 910.6,627.0 914.1,620.3 917.6,616.3 921.0,617.0 924.5,623.0 928.0,625.6 931.4,627.7 934.9,621.4 938.4,619.4 941.8,610.9 945.3,614.0 948.8,618.7 952.2,613.6 955.7,627.2 959.2,622.2 962.6,623.6 966.1,620.5 969.6,617.6 973.1,620.7 976.5,621.6 980.0,615.5 983.5,622.3 986.9,614.9 990.4,612.5 993.9,611.5 997.3,608.6 1000.8,614.4 1004.3,619.1 1007.7,611.9 1011.2,620.8 1014.7,619.2 1018.2,630.8 1021.6,621.2 1025.1,628.8 1028.6,626.4 1032.0,624.0 1035.5,619.8 1039.0,619.8 1042.4,619.8 1045.9,619.8 1049.4,623.1 1052.8,620.7 1056.3,620.4 1059.8,624.6 1063.2,620.6 1066.7,615.2 1070.2,613.6 1073.7,630.9 1077.1,637.0 1080.6,610.5 1084.1,621.8 1087.5,625.8 1091.0,634.0 1094.5,630.7 1097.9,626.2 1101.4,621.3 1104.9,618.5 1108.3,616.7 1111.8,616.2 1115.3,634.3 1118.8,623.1 1122.2,634.9 1125.7,642.0 1129.2,651.6 1132.6,647.5 1136.1,637.6 1139.6,638.1 1143.0,641.1 1146.5,646.5 1150.0,654.8 1153.4,654.0 1156.9,646.7 1160.4,656.2 1163.8,651.8 1167.3,655.5 1170.8,649.0 1174.3,663.1 1177.7,664.8 1181.2,649.9 1184.7,653.0 1188.1,665.6 1191.6,670.7 1195.1,664.9 1198.5,658.2 1202.0,651.8 1205.5,653.2 1208.9,660.0 1212.4,657.1 1215.9,658.4 1219.4,656.6 1222.8,659.8 1226.3,661.9 1229.8,664.0 1233.2,664.1 1236.7,650.9 1240.2,642.1 1243.6,631.2 1247.1,633.8 1250.6,637.1 1254.0,631.7 1257.5,623.2 1261.0,627.9 1264.5,630.3 1267.9,624.4 1271.4,615.1 1274.9,610.2 1278.3,611.1"/>
<polyline fill="none" stroke="#f2d43d" stroke-width="1.0" stroke-linejoin="round" points="8.7,635.0 12.1,634.9 15.6,632.8 19.1,630.2 22.5,627.9 26.0,625.6 29.5,622.9 33.0,620.6 36.4,618.2 39.9,615.0 43.4,611.9 46.8,608.7 50.3,607.1 53.8,605.2 57.2,603.1 60.7,602.8 64.2,602.2 67.6,602.8 71.1,603.0 74.6,603.2 78.1,603.8 81.5,605.3 85.0,606.7 88.5,608.3 91.9,610.1 95.4,612.4 98.9,613.2 102.3,614.2 105.8,615.9 109.3,616.6 112.7,617.2 116.2,617.0 119.7,617.0 123.1,617.0 126.6,617.0 130.1,615.3 133.6,613.8 137.0,612.4 140.5,611.0 144.0,609.0 147.4,607.1 150.9,605.2 154.4,605.2 157.8,604.5 161.3,604.8 164.8,606.3 168.2,607.9 171.7,609.0 175.2,609.7 178.7,611.1 182.1,613.1 185.6,615.3 189.1,618.4 192.5,621.8 196.0,625.6 199.5,629.0 202.9,632.1 206.4,636.3 209.9,639.3 213.3,641.4 216.8,643.0 220.3,645.0 223.8,647.6 227.2,649.1 230.7,650.7 234.2,652.9 237.6,654.5 241.1,655.7 244.6,656.9 248.0,658.5 251.5,658.4 255.0,658.5 258.4,659.4 261.9,658.8 265.4,658.6 268.8,658.7 272.3,658.4 275.8,659.3 279.3,659.2 282.7,659.2 286.2,659.0 289.7,657.9 293.1,657.0 296.6,655.9 300.1,656.0 303.5,655.0 307.0,653.9 310.5,653.8 313.9,653.7 317.4,653.3 320.9,652.8 324.4,652.5 327.8,653.3 331.3,653.7 334.8,653.7 338.2,654.1 341.7,653.7 345.2,654.0 348.6,653.1 352.1,652.3 355.6,651.3 359.0,651.6 362.5,652.3 366.0,652.8 369.4,653.8 372.9,653.9 376.4,653.8 379.9,652.5 383.3,651.6 386.8,651.4 390.3,651.9 393.7,651.3 397.2,651.0 400.7,650.6 404.1,650.4 407.6,649.7 411.1,648.8 414.5,647.1 418.0,644.7 421.5,643.3 425.0,641.5 428.4,640.8 431.9,640.2 435.4,639.0 438.8,637.2 442.3,635.7 445.8,634.0 449.2,632.5 452.7,630.8 456.2,628.4 459.6,626.2 463.1,625.2 466.6,624.1 470.1,622.4 473.5,620.9 477.0,619.3 480.5,617.5 483.9,616.8 487.4,616.2 490.9,615.6 494.3,614.6 497.8,614.9 501.3,615.8 504.7,617.9 508.2,619.2 511.7,621.2 515.1,623.3 518.6,626.0 522.1,629.0 525.6,631.3 529.0,634.4 532.5,636.8 536.0,639.6 539.4,642.2 542.9,645.2 546.4,646.2 549.8,646.6 553.3,645.5 556.8,645.7 560.2,645.3 563.7,645.7 567.2,644.9 570.7,643.6 574.1,642.5 577.6,641.0 581.1,639.8 584.5,638.6 588.0,637.4 591.5,635.5 594.9,634.6 598.4,633.5 601.9,633.3 605.3,632.4 608.8,631.6 612.3,630.7 615.7,630.0 619.2,630.0 622.7,629.1 626.2,627.6 629.6,626.4 633.1,626.0 636.6,626.2 640.0,626.4 643.5,626.8 647.0,627.1 650.4,627.5 653.9,628.1 657.4,627.6 660.8,626.7 664.3,625.8 667.8,624.2 671.3,623.6 674.7,624.0 678.2,623.5 681.7,622.1 685.1,620.3 688.6,618.5 692.1,616.5 695.5,615.1 699.0,613.6 702.5,612.3 705.9,612.1 709.4,611.6 712.9,611.6 716.3,611.8 719.8,613.0 723.3,613.8 726.8,614.6 730.2,615.1 733.7,615.8 737.2,617.3 740.6,618.0 744.1,618.1 747.6,617.7 751.0,617.6 754.5,616.8 758.0,616.0 761.4,614.9 764.9,614.6 768.4,613.2 771.9,611.5 775.3,610.1 778.8,609.2 782.3,608.4 785.7,607.5 789.2,607.4 792.7,608.2 796.1,610.2 799.6,612.1 803.1,614.9 806.5,619.0 810.0,623.3 813.5,626.2 817.0,629.4 820.4,633.0 823.9,635.9 827.4,638.0 830.8,639.7 834.3,641.2 837.8,643.1 841.2,644.6 844.7,645.5 848.2,644.9 851.6,643.2 855.1,640.4 858.6,637.4 862.0,635.7 865.5,634.6 869.0,632.8 872.5,631.4 875.9,630.1 879.4,629.2 882.9,627.9 886.3,626.1 889.8,623.9 893.3,620.9 896.7,619.5 900.2,619.0 903.7,618.4 907.1,618.1 910.6,618.1 914.1,617.1 917.6,616.3 921.0,615.9 924.5,616.0 928.0,616.7 931.4,617.7 934.9,618.4 938.4,619.0 941.8,619.3 945.3,619.3 948.8,619.3 952.2,619.5 955.7,620.2 959.2,619.8 962.6,620.1 966.1,620.4 969.6,620.4 973.1,620.2 976.5,620.0 980.0,619.1 983.5,619.1 986.9,618.8 990.4,618.9 993.9,618.8 997.3,618.0 1000.8,618.1 1004.3,617.5 1007.7,616.8 1011.2,616.6 1014.7,616.5 1018.2,617.4 1021.6,617.4 1025.1,618.0 1028.6,618.7 1032.0,618.9 1035.5,619.2 1039.0,619.7 1042.4,620.3 1045.9,621.1 1049.4,621.7 1052.8,621.9 1056.3,622.5 1059.8,622.7 1063.2,622.8 1066.7,621.7 1070.2,621.2 1073.7,621.3 1077.1,622.1 1080.6,621.1 1084.1,621.3 1087.5,621.7 1091.0,622.7 1094.5,623.5 1097.9,623.7 1101.4,623.8 1104.9,623.6 1108.3,623.1 1111.8,622.7 1115.3,624.1 1118.8,624.8 1122.2,625.1 1125.7,625.4 1129.2,628.4 1132.6,630.2 1136.1,631.0 1139.6,631.3 1143.0,632.1 1146.5,633.5 1150.0,635.9 1153.4,638.4 1156.9,640.6 1160.4,643.4 1163.8,644.7 1167.3,647.0 1170.8,648.0 1174.3,649.5 1177.7,650.5 1181.2,650.6 1184.7,651.8 1188.1,653.7 1191.6,655.8 1195.1,657.1 1198.5,657.4 1202.0,657.2 1205.5,657.7 1208.9,658.0 1212.4,658.3 1215.9,658.6 1219.4,659.1 1222.8,658.9 1226.3,658.7 1229.8,659.7 1233.2,660.5 1236.7,659.4 1240.2,657.4 1243.6,655.0 1247.1,653.2 1250.6,652.2 1254.0,650.6 1257.5,648.0 1261.0,645.9 1264.5,643.9 1267.9,641.6 1271.4,638.4 1274.9,634.7 1278.3,630.9"/>
</g>
<text x="28.6" y="699.8" text-anchor="middle" font-family="Liberation Sans" font-size="10.5" fill="#b2b5be">Sep</text>
<text x="105.1" y="699.8" text-anchor="middle" font-family="Liberation Sans" font-size="10.5" fill="#b2b5be">Oct</text>
<text x="178" y="699.8" text-anchor="middle" font-family="Liberation Sans" font-size="10.5" fill="#b2b5be">Nov</text>
<text x="254.3" y="699.8" text-anchor="middle" font-family="Liberation Sans" font-size="10.5" fill="#b2b5be">Dec</text>
<text x="330.9" y="699.8" text-anchor="middle" font-family="Liberation Sans" font-size="10.5" font-weight="bold" fill="#b2b5be">2023</text>
<text x="407.1" y="699.8" text-anchor="middle" font-family="Liberation Sans" font-size="10.5" fill="#b2b5be">Feb</text>
<text x="479.4" y="699.8" text-anchor="middle" font-family="Liberation Sans" font-size="10.5" fill="#b2b5be">2</text>
<text x="556.3" y="699.8" text-anchor="middle" font-family="Liberation Sans" font-size="10.5" fill="#b2b5be">Apr</text>
<text x="628.9" y="699.8" text-anchor="middle" font-family="Liberation Sans" font-size="10.5" fill="#b2b5be">2</text>
<text x="705.1" y="699.8" text-anchor="middle" font-family="Liberation Sans" font-size="10.5" fill="#b2b5be">Jun</text>
<text x="781.7" y="699.8" text-anchor="middle" font-family="Liberation Sans" font-size="10.5" fill="#b2b5be">Jul</text>
<text x="854.6" y="699.8" text-anchor="middle" font-family="Liberation Sans" font-size="10.5" fill="#b2b5be">Aug</text>
<text x="934.2" y="699.8" text-anchor="middle" font-family="Liberation Sans" font-size="10.5" fill="#b2b5be">Sep</text>
<text x="1007.1" y="699.8" text-anchor="middle" font-family="Liberation Sans" font-size="10.5" fill="#b2b5be">Oct</text>
<text x="1083.7" y="699.8" text-anchor="middle" font-family="Liberation Sans" font-size="10.5" fill="#b2b5be">Nov</text>
<text x="1160" y="699.8" text-anchor="middle" font-family="Liberation Sans" font-size="10.5" fill="#b2b5be">Dec</text>
<text x="1232.6" y="699.8" text-anchor="middle" font-family="Liberation Sans" font-size="10.5" font-weight="bold" fill="#b2b5be">2024</text>
<text x="1313" y="699.8" text-anchor="middle" font-family="Liberation Sans" font-size="10.5" fill="#b2b5be">Feb</text>
<text x="9" y="16.8" font-family="Liberation Sans" font-size="10.5" fill="#d1d4dc">dacolmanfx published on TradingView.com, Jan 17, 2024 17:13 UTC-5</text>
<text y="40.8" font-family="Liberation Sans" font-size="10.45" fill="#b2b5be"><tspan x="16">U.S. Dollar / Japanese Yen, 1D, ICE</tspan><tspan x="189.4">O</tspan><tspan fill="#ef5350">148.154</tspan><tspan x="240.2">H</tspan><tspan fill="#ef5350">148.178</tspan><tspan x="290.3">L</tspan><tspan fill="#ef5350">148.087</tspan><tspan x="339.3">C</tspan><tspan fill="#ef5350">148.087</tspan></text>
<text x="389.7" y="40.8" textLength="74.2" lengthAdjust="spacingAndGlyphs" font-family="Liberation Sans" font-size="10.45" fill="#ef5350">−0.072 (−0.05%)</text>
<text x="29" y="728" font-family="Liberation Sans" font-size="11.3" fill="#d1d4dc">TradingView</text>
<circle cx="1278.4" cy="565.4" r="8.5" fill="none" stroke="#a945c9" stroke-width="2"/>
<circle cx="1284.5" cy="559.3" r="4" fill="#171b26"/>
<circle cx="1284.5" cy="559.3" r="2.5" fill="#f23645"/>
<polyline points="1280.7,561 1275.5,565.4 1281.5,565.4 1276.2,569.9" fill="none" stroke="#a945c9" stroke-width="1.8" stroke-linejoin="miter"/>
<polygon points="8.8,718.2 16.4,718.2 16.4,727 11.6,727 11.6,721.9 8.8,721.9" fill="#d1d4dc"/>
<circle cx="18.6" cy="720" r="1.4" fill="#d1d4dc"/>
<polygon points="21.2,718.2 26,718.2 22.2,727 17.6,727" fill="#d1d4dc"/>
<g transform="translate(-1.8,1.8)" fill="#000000" opacity="0.95"><polygon points="1195.0,646.9 1204.3,646.9 1203.9,661.8 1194.2,661.8"/><polygon points="1216.0,646.3 1226.5,646.3 1225.7,649.0 1215.2,649.0"/><polygon points="1208.9,648.8 1246.0,648.8 1244.6,655.5 1207.6,655.5"/><polygon points="1208.9,650.5 1217.7,650.5 1215.2,659.5 1206.8,659.5"/><polygon points="1208.5,659.3 1242.5,659.3 1241.4,665.2 1207.4,665.2"/><polygon points="1191.0,664.1 1205.9,664.1 1203.3,679.7 1189.7,679.7"/><polygon points="1191.0,674.5 1239.7,674.5 1238.1,681.6 1189.4,681.6"/><polygon points="1196.8,681.0 1202.7,681.0 1194.2,699.8 1180.6,699.8"/><polygon points="1207.9,660.2 1215.7,660.2 1205.3,699.8 1197.5,699.8"/><polygon points="1235.2,660.2 1243.0,660.2 1231.9,699.8 1224.1,699.8"/><polygon points="1197.5,692.7 1231.9,692.7 1230.6,699.8 1196.2,699.8"/><polygon points="1218.3,665.4 1224.8,665.4 1222.8,671.2 1216.3,671.2"/><polygon points="1215.7,682.3 1223.5,682.3 1220.9,692.7 1214.4,692.7"/><polygon points="1255.3,646.7 1304.8,646.7 1302.8,654.0 1253.3,654.0"/><polygon points="1295.5,646.7 1304.8,646.7 1289.8,699.0 1280.5,699.0"/><polygon points="1252.5,657.2 1262.2,657.2 1257.7,672.2 1248.0,672.2"/><polygon points="1250.0,667.4 1300.7,667.4 1298.5,675.5 1247.7,675.5"/><polygon points="1246.0,682.8 1286.1,682.8 1284.1,690.1 1243.9,690.1"/><polygon points="1270.7,691.7 1291.8,691.7 1289.8,699.8 1268.3,699.8"/><polygon points="1312.9,647.4 1339.6,647.4 1337.2,656.8 1310.6,656.8"/><polygon points="1312.9,647.4 1319.6,647.4 1310.2,686.6 1303.5,686.6"/><polygon points="1319.2,658.0 1327.0,658.0 1319.2,685.8 1311.3,685.8"/><polygon points="1332.3,647.4 1339.4,647.4 1328.2,686.6 1321.2,686.6"/><polygon points="1303.5,685.8 1318.4,685.8 1311.3,699.2 1300.4,699.2"/><polygon points="1317.6,685.8 1325.5,685.8 1327.8,699.2 1320.0,699.2"/><polygon points="1341.7,649.5 1366.4,649.5 1364.0,660.5 1339.2,660.5"/><polygon points="1356.7,646.7 1365.6,646.7 1356.7,699.0 1346.9,699.0"/><polygon points="1347.8,660.5 1356.7,660.5 1338.8,699.0 1327.5,699.0"/><polygon points="1340.5,693.3 1356.7,693.3 1355.1,699.4 1338.8,699.4"/><polygon points="1380.2,647.1 1390.7,647.1 1379.4,669.8 1368.8,669.8"/><polygon points="1378.6,658.8 1394.0,658.8 1393.2,662.5 1377.7,662.5"/><polygon points="1385.9,662.5 1394.0,662.5 1375.3,683.6 1366.4,683.6"/><polygon points="1367.2,677.9 1386.7,677.9 1384.7,686.9 1364.7,686.9"/><polygon points="1363.1,691.7 1384.2,691.7 1382.6,699.9 1361.1,699.9"/><polygon points="1391.6,647.1 1426.5,647.1 1424.5,654.4 1389.5,654.4"/><polygon points="1416.7,654.4 1425.7,654.4 1400.5,673.9 1390.7,673.9"/><polygon points="1400.5,656.8 1410.2,656.8 1421.6,667.4 1413.5,667.4"/><polygon points="1392.4,667.4 1421.6,667.4 1420.0,673.9 1390.7,673.9"/><polygon points="1390.7,677.1 1420.0,677.1 1418.4,683.6 1389.1,683.6"/><polygon points="1400.5,683.6 1408.6,683.6 1406.2,691.7 1398.1,691.7"/><polygon points="1384.2,691.7 1415.1,691.7 1413.1,699.9 1382.2,699.9"/></g>
<g fill="#c6c8d0" opacity="0.76"><polygon points="1195.0,646.9 1204.3,646.9 1203.9,661.8 1194.2,661.8"/><polygon points="1216.0,646.3 1226.5,646.3 1225.7,649.0 1215.2,649.0"/><polygon points="1208.9,648.8 1246.0,648.8 1244.6,655.5 1207.6,655.5"/><polygon points="1208.9,650.5 1217.7,650.5 1215.2,659.5 1206.8,659.5"/><polygon points="1208.5,659.3 1242.5,659.3 1241.4,665.2 1207.4,665.2"/><polygon points="1191.0,664.1 1205.9,664.1 1203.3,679.7 1189.7,679.7"/><polygon points="1191.0,674.5 1239.7,674.5 1238.1,681.6 1189.4,681.6"/><polygon points="1196.8,681.0 1202.7,681.0 1194.2,699.8 1180.6,699.8"/><polygon points="1207.9,660.2 1215.7,660.2 1205.3,699.8 1197.5,699.8"/><polygon points="1235.2,660.2 1243.0,660.2 1231.9,699.8 1224.1,699.8"/><polygon points="1197.5,692.7 1231.9,692.7 1230.6,699.8 1196.2,699.8"/><polygon points="1218.3,665.4 1224.8,665.4 1222.8,671.2 1216.3,671.2"/><polygon points="1215.7,682.3 1223.5,682.3 1220.9,692.7 1214.4,692.7"/><polygon points="1255.3,646.7 1304.8,646.7 1302.8,654.0 1253.3,654.0"/><polygon points="1295.5,646.7 1304.8,646.7 1289.8,699.0 1280.5,699.0"/><polygon points="1252.5,657.2 1262.2,657.2 1257.7,672.2 1248.0,672.2"/><polygon points="1250.0,667.4 1300.7,667.4 1298.5,675.5 1247.7,675.5"/><polygon points="1246.0,682.8 1286.1,682.8 1284.1,690.1 1243.9,690.1"/><polygon points="1270.7,691.7 1291.8,691.7 1289.8,699.8 1268.3,699.8"/><polygon points="1312.9,647.4 1339.6,647.4 1337.2,656.8 1310.6,656.8"/><polygon points="1312.9,647.4 1319.6,647.4 1310.2,686.6 1303.5,686.6"/><polygon points="1319.2,658.0 1327.0,658.0 1319.2,685.8 1311.3,685.8"/><polygon points="1332.3,647.4 1339.4,647.4 1328.2,686.6 1321.2,686.6"/><polygon points="1303.5,685.8 1318.4,685.8 1311.3,699.2 1300.4,699.2"/><polygon points="1317.6,685.8 1325.5,685.8 1327.8,699.2 1320.0,699.2"/><polygon points="1341.7,649.5 1366.4,649.5 1364.0,660.5 1339.2,660.5"/><polygon points="1356.7,646.7 1365.6,646.7 1356.7,699.0 1346.9,699.0"/><polygon points="1347.8,660.5 1356.7,660.5 1338.8,699.0 1327.5,699.0"/><polygon points="1340.5,693.3 1356.7,693.3 1355.1,699.4 1338.8,699.4"/><polygon points="1380.2,647.1 1390.7,647.1 1379.4,669.8 1368.8,669.8"/><polygon points="1378.6,658.8 1394.0,658.8 1393.2,662.5 1377.7,662.5"/><polygon points="1385.9,662.5 1394.0,662.5 1375.3,683.6 1366.4,683.6"/><polygon points="1367.2,677.9 1386.7,677.9 1384.7,686.9 1364.7,686.9"/><polygon points="1363.1,691.7 1384.2,691.7 1382.6,699.9 1361.1,699.9"/><polygon points="1391.6,647.1 1426.5,647.1 1424.5,654.4 1389.5,654.4"/><polygon points="1416.7,654.4 1425.7,654.4 1400.5,673.9 1390.7,673.9"/><polygon points="1400.5,656.8 1410.2,656.8 1421.6,667.4 1413.5,667.4"/><polygon points="1392.4,667.4 1421.6,667.4 1420.0,673.9 1390.7,673.9"/><polygon points="1390.7,677.1 1420.0,677.1 1418.4,683.6 1389.1,683.6"/><polygon points="1400.5,683.6 1408.6,683.6 1406.2,691.7 1398.1,691.7"/><polygon points="1384.2,691.7 1415.1,691.7 1413.1,699.9 1382.2,699.9"/></g>
<text x="1195.2 1221.9 1250.4 1274.6 1293.9 1328.1 1352.4 1372.5 1396.7" y="733.6" font-family="Liberation Sans" font-weight="bold" font-style="italic" font-size="30" fill="#0d1a3a" stroke="#0d1a3a" stroke-width="1.3">zzrt01.cn</text>
<text x="1194.2 1220.9 1249.4 1273.6 1292.9 1327.1 1351.4 1371.5 1395.7" y="732.6" font-family="Liberation Sans" font-weight="bold" font-style="italic" font-size="30" fill="#2a4ea6" stroke="#2a4ea6" stroke-width="1.3">zzrt01.cn</text>
<text x="1232.6" y="699.8" text-anchor="middle" font-family="Liberation Sans" font-size="10.5" font-weight="bold" fill="#ffffff" opacity="0.75">2024</text>
<text x="1313" y="699.8" text-anchor="middle" font-family="Liberation Sans" font-size="10.5" fill="#ffffff" opacity="0.75">Feb</text>
<text x="1374.5" y="655.3" font-family="Liberation Sans" font-size="10.1" fill="#ffffff" opacity="0.6">40.00</text>
</svg></body></html>
